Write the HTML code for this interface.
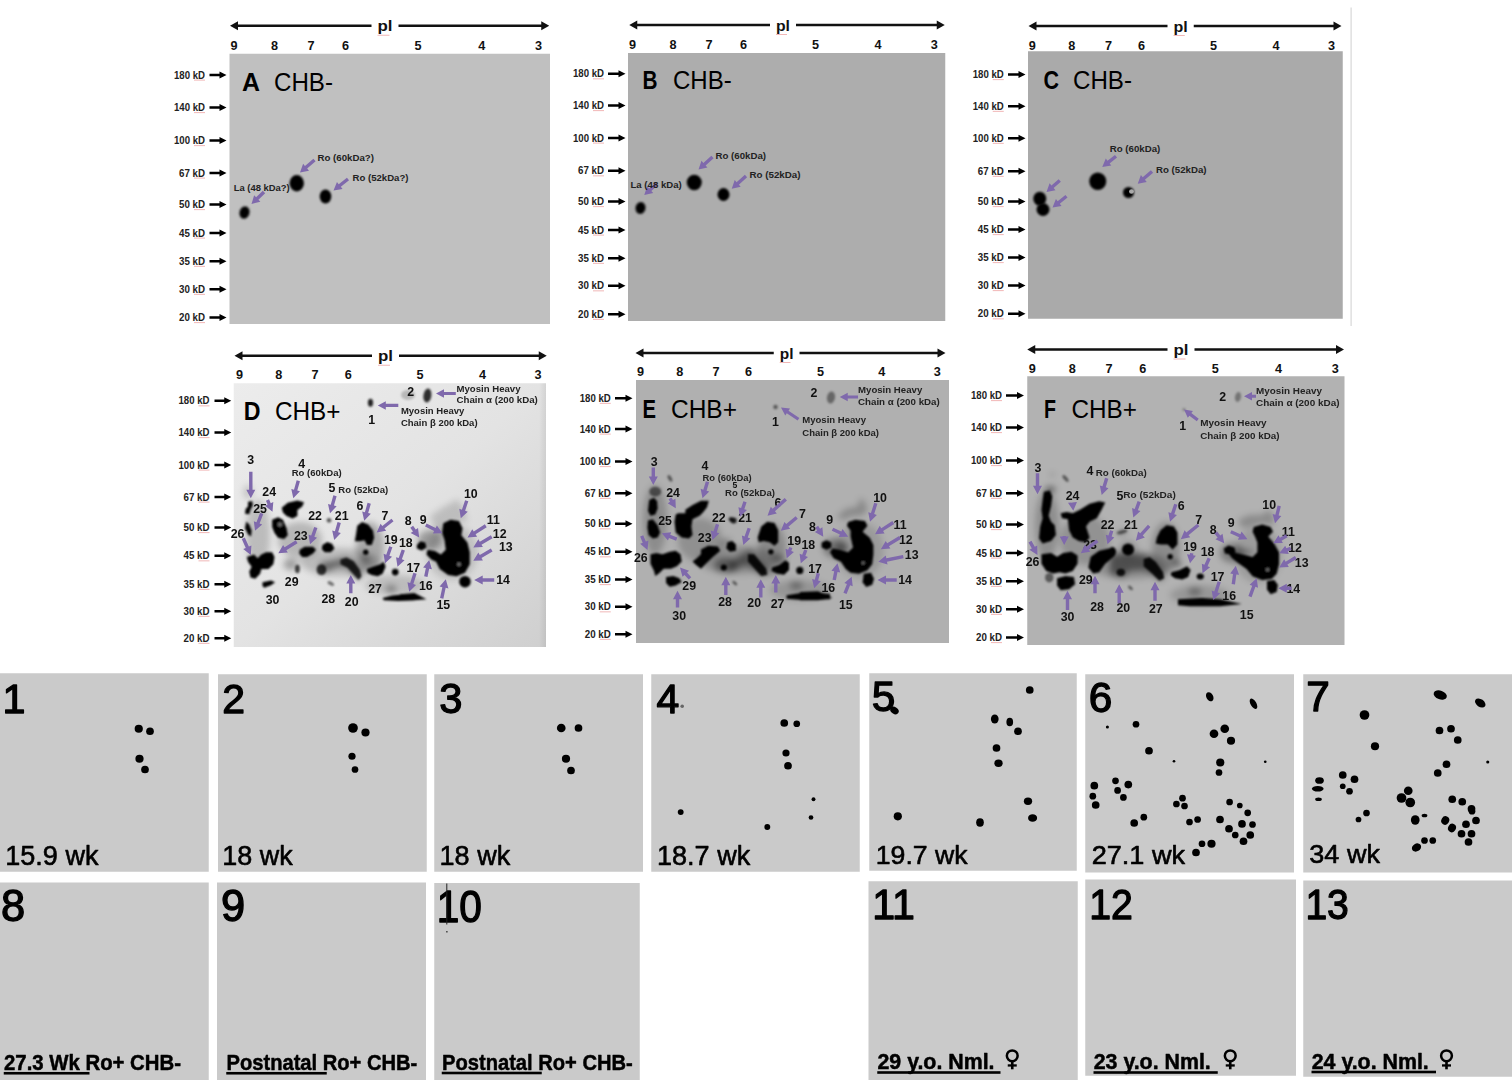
<!DOCTYPE html><html><head><meta charset="utf-8"><style>html,body{margin:0;padding:0;background:#fff;overflow:hidden}svg{display:block}</style></head><body>
<svg width="1512" height="1080" viewBox="0 0 1512 1080" font-family='"Liberation Sans", sans-serif'>
<defs><filter id="b1" x="-50%" y="-50%" width="200%" height="200%"><feGaussianBlur stdDeviation="0.8"/></filter><filter id="b2" x="-20%" y="-20%" width="140%" height="140%"><feGaussianBlur stdDeviation="1.2"/></filter><linearGradient id="gD" x1="0" y1="0" x2="1" y2="1"><stop offset="0" stop-color="#ececec"/><stop offset="0.5" stop-color="#e3e3e3"/><stop offset="1" stop-color="#cfcfcf"/></linearGradient><linearGradient id="gDr" x1="0" y1="0" x2="1" y2="0"><stop offset="0" stop-color="#000" stop-opacity="0"/><stop offset="1" stop-color="#000" stop-opacity="0.07"/></linearGradient><filter id="b3" x="-50%" y="-50%" width="200%" height="200%"><feGaussianBlur stdDeviation="3"/></filter></defs>
<rect width="1512" height="1080" fill="#fff"/>
<rect x="229.5" y="53.75" width="320.5" height="270.25" fill="#c0c0c0"/>
<polygon points="371.50,24.55 238.00,24.55 238.00,21.25 230.00,25.75 238.00,30.25 238.00,26.95 371.50,26.95" fill="#111"/>
<polygon points="398.50,26.95 541.25,26.95 541.25,30.25 549.25,25.75 541.25,21.25 541.25,24.55 398.50,24.55" fill="#111"/>
<text x="377.50" y="31.25" font-size="15.11" font-weight="bold" fill="#111" text-anchor="start" textLength="15.00" lengthAdjust="spacingAndGlyphs">pl</text>
<rect x="377.50" y="34.75" width="12.00" height="1" fill="#e06060" opacity="0.45"/>
<text x="234.00" y="50.15" font-size="12.66" font-weight="bold" fill="#111" text-anchor="middle">9</text>
<text x="274.50" y="50.15" font-size="12.66" font-weight="bold" fill="#111" text-anchor="middle">8</text>
<text x="311.00" y="50.15" font-size="12.66" font-weight="bold" fill="#111" text-anchor="middle">7</text>
<text x="345.50" y="50.15" font-size="12.66" font-weight="bold" fill="#111" text-anchor="middle">6</text>
<text x="418.00" y="50.15" font-size="12.66" font-weight="bold" fill="#111" text-anchor="middle">5</text>
<text x="481.75" y="50.15" font-size="12.66" font-weight="bold" fill="#111" text-anchor="middle">4</text>
<text x="538.50" y="50.15" font-size="12.66" font-weight="bold" fill="#111" text-anchor="middle">3</text>
<text x="174.00" y="78.60" font-size="10.36" font-weight="bold" fill="#222" text-anchor="start" textLength="31.00" lengthAdjust="spacingAndGlyphs">180 kD</text>
<rect x="194.00" y="79.60" width="11" height="1" fill="#e06060" opacity="0.45"/>
<polygon points="209.50,76.20 219.50,76.20 219.50,78.50 226.50,75.00 219.50,71.50 219.50,73.80 209.50,73.80" fill="#000"/>
<text x="174.00" y="111.10" font-size="10.36" font-weight="bold" fill="#222" text-anchor="start" textLength="31.00" lengthAdjust="spacingAndGlyphs">140 kD</text>
<rect x="194.00" y="112.10" width="11" height="1" fill="#e06060" opacity="0.45"/>
<polygon points="209.50,108.70 219.50,108.70 219.50,111.00 226.50,107.50 219.50,104.00 219.50,106.30 209.50,106.30" fill="#000"/>
<text x="174.00" y="144.10" font-size="10.36" font-weight="bold" fill="#222" text-anchor="start" textLength="31.00" lengthAdjust="spacingAndGlyphs">100 kD</text>
<rect x="194.00" y="145.10" width="11" height="1" fill="#e06060" opacity="0.45"/>
<polygon points="209.50,141.70 219.50,141.70 219.50,144.00 226.50,140.50 219.50,137.00 219.50,139.30 209.50,139.30" fill="#000"/>
<text x="179.00" y="176.60" font-size="10.36" font-weight="bold" fill="#222" text-anchor="start" textLength="26.00" lengthAdjust="spacingAndGlyphs">67 kD</text>
<rect x="194.00" y="177.60" width="11" height="1" fill="#e06060" opacity="0.45"/>
<polygon points="209.50,174.20 219.50,174.20 219.50,176.50 226.50,173.00 219.50,169.50 219.50,171.80 209.50,171.80" fill="#000"/>
<text x="179.00" y="208.10" font-size="10.36" font-weight="bold" fill="#222" text-anchor="start" textLength="26.00" lengthAdjust="spacingAndGlyphs">50 kD</text>
<rect x="194.00" y="209.10" width="11" height="1" fill="#e06060" opacity="0.45"/>
<polygon points="209.50,205.70 219.50,205.70 219.50,208.00 226.50,204.50 219.50,201.00 219.50,203.30 209.50,203.30" fill="#000"/>
<text x="179.00" y="236.60" font-size="10.36" font-weight="bold" fill="#222" text-anchor="start" textLength="26.00" lengthAdjust="spacingAndGlyphs">45 kD</text>
<rect x="194.00" y="237.60" width="11" height="1" fill="#e06060" opacity="0.45"/>
<polygon points="209.50,234.20 219.50,234.20 219.50,236.50 226.50,233.00 219.50,229.50 219.50,231.80 209.50,231.80" fill="#000"/>
<text x="179.00" y="264.85" font-size="10.36" font-weight="bold" fill="#222" text-anchor="start" textLength="26.00" lengthAdjust="spacingAndGlyphs">35 kD</text>
<rect x="194.00" y="265.85" width="11" height="1" fill="#e06060" opacity="0.45"/>
<polygon points="209.50,262.45 219.50,262.45 219.50,264.75 226.50,261.25 219.50,257.75 219.50,260.05 209.50,260.05" fill="#000"/>
<text x="179.00" y="292.85" font-size="10.36" font-weight="bold" fill="#222" text-anchor="start" textLength="26.00" lengthAdjust="spacingAndGlyphs">30 kD</text>
<rect x="194.00" y="293.85" width="11" height="1" fill="#e06060" opacity="0.45"/>
<polygon points="209.50,290.45 219.50,290.45 219.50,292.75 226.50,289.25 219.50,285.75 219.50,288.05 209.50,288.05" fill="#000"/>
<text x="179.00" y="321.10" font-size="10.36" font-weight="bold" fill="#222" text-anchor="start" textLength="26.00" lengthAdjust="spacingAndGlyphs">20 kD</text>
<rect x="194.00" y="322.10" width="11" height="1" fill="#e06060" opacity="0.45"/>
<polygon points="209.50,318.70 219.50,318.70 219.50,321.00 226.50,317.50 219.50,314.00 219.50,316.30 209.50,316.30" fill="#000"/>
<text x="242.00" y="90.50" font-size="25.90" font-weight="bold" fill="#000" text-anchor="start" textLength="18.00" lengthAdjust="spacingAndGlyphs">A</text>
<text x="274.00" y="90.50" font-size="25.90" fill="#000" text-anchor="start" textLength="59.00" lengthAdjust="spacingAndGlyphs">CHB-</text>
<rect x="628" y="53" width="317.25" height="268" fill="#adadad"/>
<polygon points="770.00,23.80 637.25,23.80 637.25,20.50 629.25,25.00 637.25,29.50 637.25,26.20 770.00,26.20" fill="#111"/>
<polygon points="796.00,26.20 936.75,26.20 936.75,29.50 944.75,25.00 936.75,20.50 936.75,23.80 796.00,23.80" fill="#111"/>
<text x="776.00" y="30.50" font-size="15.11" font-weight="bold" fill="#111" text-anchor="start" textLength="14.00" lengthAdjust="spacingAndGlyphs">pl</text>
<rect x="776.00" y="34.00" width="11.00" height="1" fill="#e06060" opacity="0.45"/>
<text x="632.50" y="49.40" font-size="12.66" font-weight="bold" fill="#111" text-anchor="middle">9</text>
<text x="673.00" y="49.40" font-size="12.66" font-weight="bold" fill="#111" text-anchor="middle">8</text>
<text x="709.00" y="49.40" font-size="12.66" font-weight="bold" fill="#111" text-anchor="middle">7</text>
<text x="743.50" y="49.40" font-size="12.66" font-weight="bold" fill="#111" text-anchor="middle">6</text>
<text x="815.50" y="49.40" font-size="12.66" font-weight="bold" fill="#111" text-anchor="middle">5</text>
<text x="878.00" y="49.40" font-size="12.66" font-weight="bold" fill="#111" text-anchor="middle">4</text>
<text x="934.25" y="49.40" font-size="12.66" font-weight="bold" fill="#111" text-anchor="middle">3</text>
<text x="573.00" y="77.35" font-size="10.36" font-weight="bold" fill="#222" text-anchor="start" textLength="31.00" lengthAdjust="spacingAndGlyphs">180 kD</text>
<rect x="593.00" y="78.35" width="11" height="1" fill="#e06060" opacity="0.45"/>
<polygon points="608.00,74.95 618.50,74.95 618.50,77.25 625.50,73.75 618.50,70.25 618.50,72.55 608.00,72.55" fill="#000"/>
<text x="573.00" y="109.10" font-size="10.36" font-weight="bold" fill="#222" text-anchor="start" textLength="31.00" lengthAdjust="spacingAndGlyphs">140 kD</text>
<rect x="593.00" y="110.10" width="11" height="1" fill="#e06060" opacity="0.45"/>
<polygon points="608.00,106.70 618.50,106.70 618.50,109.00 625.50,105.50 618.50,102.00 618.50,104.30 608.00,104.30" fill="#000"/>
<text x="573.00" y="141.60" font-size="10.36" font-weight="bold" fill="#222" text-anchor="start" textLength="31.00" lengthAdjust="spacingAndGlyphs">100 kD</text>
<rect x="593.00" y="142.60" width="11" height="1" fill="#e06060" opacity="0.45"/>
<polygon points="608.00,139.20 618.50,139.20 618.50,141.50 625.50,138.00 618.50,134.50 618.50,136.80 608.00,136.80" fill="#000"/>
<text x="578.00" y="174.35" font-size="10.36" font-weight="bold" fill="#222" text-anchor="start" textLength="26.00" lengthAdjust="spacingAndGlyphs">67 kD</text>
<rect x="593.00" y="175.35" width="11" height="1" fill="#e06060" opacity="0.45"/>
<polygon points="608.00,171.95 618.50,171.95 618.50,174.25 625.50,170.75 618.50,167.25 618.50,169.55 608.00,169.55" fill="#000"/>
<text x="578.00" y="205.10" font-size="10.36" font-weight="bold" fill="#222" text-anchor="start" textLength="26.00" lengthAdjust="spacingAndGlyphs">50 kD</text>
<rect x="593.00" y="206.10" width="11" height="1" fill="#e06060" opacity="0.45"/>
<polygon points="608.00,202.70 618.50,202.70 618.50,205.00 625.50,201.50 618.50,198.00 618.50,200.30 608.00,200.30" fill="#000"/>
<text x="578.00" y="233.60" font-size="10.36" font-weight="bold" fill="#222" text-anchor="start" textLength="26.00" lengthAdjust="spacingAndGlyphs">45 kD</text>
<rect x="593.00" y="234.60" width="11" height="1" fill="#e06060" opacity="0.45"/>
<polygon points="608.00,231.20 618.50,231.20 618.50,233.50 625.50,230.00 618.50,226.50 618.50,228.80 608.00,228.80" fill="#000"/>
<text x="578.00" y="261.85" font-size="10.36" font-weight="bold" fill="#222" text-anchor="start" textLength="26.00" lengthAdjust="spacingAndGlyphs">35 kD</text>
<rect x="593.00" y="262.85" width="11" height="1" fill="#e06060" opacity="0.45"/>
<polygon points="608.00,259.45 618.50,259.45 618.50,261.75 625.50,258.25 618.50,254.75 618.50,257.05 608.00,257.05" fill="#000"/>
<text x="578.00" y="289.35" font-size="10.36" font-weight="bold" fill="#222" text-anchor="start" textLength="26.00" lengthAdjust="spacingAndGlyphs">30 kD</text>
<rect x="593.00" y="290.35" width="11" height="1" fill="#e06060" opacity="0.45"/>
<polygon points="608.00,286.95 618.50,286.95 618.50,289.25 625.50,285.75 618.50,282.25 618.50,284.55 608.00,284.55" fill="#000"/>
<text x="578.00" y="317.85" font-size="10.36" font-weight="bold" fill="#222" text-anchor="start" textLength="26.00" lengthAdjust="spacingAndGlyphs">20 kD</text>
<rect x="593.00" y="318.85" width="11" height="1" fill="#e06060" opacity="0.45"/>
<polygon points="608.00,315.45 618.50,315.45 618.50,317.75 625.50,314.25 618.50,310.75 618.50,313.05 608.00,313.05" fill="#000"/>
<text x="642.50" y="89.00" font-size="25.90" font-weight="bold" fill="#000" text-anchor="start" textLength="15.00" lengthAdjust="spacingAndGlyphs">B</text>
<text x="673.00" y="89.00" font-size="25.90" fill="#000" text-anchor="start" textLength="58.75" lengthAdjust="spacingAndGlyphs">CHB-</text>
<rect x="1028" y="51.25" width="314.75" height="267.5" fill="#aaaaaa"/>
<polygon points="1167.50,24.80 1036.50,24.80 1036.50,21.50 1028.50,26.00 1036.50,30.50 1036.50,27.20 1167.50,27.20" fill="#111"/>
<polygon points="1193.75,27.20 1333.50,27.20 1333.50,30.50 1341.50,26.00 1333.50,21.50 1333.50,24.80 1193.75,24.80" fill="#111"/>
<text x="1173.50" y="31.50" font-size="15.11" font-weight="bold" fill="#111" text-anchor="start" textLength="14.25" lengthAdjust="spacingAndGlyphs">pl</text>
<rect x="1173.50" y="35.00" width="11.25" height="1" fill="#e06060" opacity="0.45"/>
<text x="1032.25" y="50.40" font-size="12.66" font-weight="bold" fill="#111" text-anchor="middle">9</text>
<text x="1071.75" y="50.40" font-size="12.66" font-weight="bold" fill="#111" text-anchor="middle">8</text>
<text x="1108.50" y="50.40" font-size="12.66" font-weight="bold" fill="#111" text-anchor="middle">7</text>
<text x="1141.50" y="50.40" font-size="12.66" font-weight="bold" fill="#111" text-anchor="middle">6</text>
<text x="1213.50" y="50.40" font-size="12.66" font-weight="bold" fill="#111" text-anchor="middle">5</text>
<text x="1276.00" y="50.40" font-size="12.66" font-weight="bold" fill="#111" text-anchor="middle">4</text>
<text x="1331.50" y="50.40" font-size="12.66" font-weight="bold" fill="#111" text-anchor="middle">3</text>
<text x="972.75" y="78.10" font-size="10.36" font-weight="bold" fill="#222" text-anchor="start" textLength="31.00" lengthAdjust="spacingAndGlyphs">180 kD</text>
<rect x="992.75" y="79.10" width="11" height="1" fill="#e06060" opacity="0.45"/>
<polygon points="1008.00,75.70 1018.50,75.70 1018.50,78.00 1025.50,74.50 1018.50,71.00 1018.50,73.30 1008.00,73.30" fill="#000"/>
<text x="972.75" y="109.85" font-size="10.36" font-weight="bold" fill="#222" text-anchor="start" textLength="31.00" lengthAdjust="spacingAndGlyphs">140 kD</text>
<rect x="992.75" y="110.85" width="11" height="1" fill="#e06060" opacity="0.45"/>
<polygon points="1008.00,107.45 1018.50,107.45 1018.50,109.75 1025.50,106.25 1018.50,102.75 1018.50,105.05 1008.00,105.05" fill="#000"/>
<text x="972.75" y="141.85" font-size="10.36" font-weight="bold" fill="#222" text-anchor="start" textLength="31.00" lengthAdjust="spacingAndGlyphs">100 kD</text>
<rect x="992.75" y="142.85" width="11" height="1" fill="#e06060" opacity="0.45"/>
<polygon points="1008.00,139.45 1018.50,139.45 1018.50,141.75 1025.50,138.25 1018.50,134.75 1018.50,137.05 1008.00,137.05" fill="#000"/>
<text x="977.75" y="174.85" font-size="10.36" font-weight="bold" fill="#222" text-anchor="start" textLength="26.00" lengthAdjust="spacingAndGlyphs">67 kD</text>
<rect x="992.75" y="175.85" width="11" height="1" fill="#e06060" opacity="0.45"/>
<polygon points="1008.00,172.45 1018.50,172.45 1018.50,174.75 1025.50,171.25 1018.50,167.75 1018.50,170.05 1008.00,170.05" fill="#000"/>
<text x="977.75" y="205.10" font-size="10.36" font-weight="bold" fill="#222" text-anchor="start" textLength="26.00" lengthAdjust="spacingAndGlyphs">50 kD</text>
<rect x="992.75" y="206.10" width="11" height="1" fill="#e06060" opacity="0.45"/>
<polygon points="1008.00,202.70 1018.50,202.70 1018.50,205.00 1025.50,201.50 1018.50,198.00 1018.50,200.30 1008.00,200.30" fill="#000"/>
<text x="977.75" y="233.10" font-size="10.36" font-weight="bold" fill="#222" text-anchor="start" textLength="26.00" lengthAdjust="spacingAndGlyphs">45 kD</text>
<rect x="992.75" y="234.10" width="11" height="1" fill="#e06060" opacity="0.45"/>
<polygon points="1008.00,230.70 1018.50,230.70 1018.50,233.00 1025.50,229.50 1018.50,226.00 1018.50,228.30 1008.00,228.30" fill="#000"/>
<text x="977.75" y="261.10" font-size="10.36" font-weight="bold" fill="#222" text-anchor="start" textLength="26.00" lengthAdjust="spacingAndGlyphs">35 kD</text>
<rect x="992.75" y="262.10" width="11" height="1" fill="#e06060" opacity="0.45"/>
<polygon points="1008.00,258.70 1018.50,258.70 1018.50,261.00 1025.50,257.50 1018.50,254.00 1018.50,256.30 1008.00,256.30" fill="#000"/>
<text x="977.75" y="289.10" font-size="10.36" font-weight="bold" fill="#222" text-anchor="start" textLength="26.00" lengthAdjust="spacingAndGlyphs">30 kD</text>
<rect x="992.75" y="290.10" width="11" height="1" fill="#e06060" opacity="0.45"/>
<polygon points="1008.00,286.70 1018.50,286.70 1018.50,289.00 1025.50,285.50 1018.50,282.00 1018.50,284.30 1008.00,284.30" fill="#000"/>
<text x="977.75" y="317.35" font-size="10.36" font-weight="bold" fill="#222" text-anchor="start" textLength="26.00" lengthAdjust="spacingAndGlyphs">20 kD</text>
<rect x="992.75" y="318.35" width="11" height="1" fill="#e06060" opacity="0.45"/>
<polygon points="1008.00,314.95 1018.50,314.95 1018.50,317.25 1025.50,313.75 1018.50,310.25 1018.50,312.55 1008.00,312.55" fill="#000"/>
<text x="1043.50" y="89.00" font-size="25.90" font-weight="bold" fill="#000" text-anchor="start" textLength="15.50" lengthAdjust="spacingAndGlyphs">C</text>
<text x="1073.00" y="89.00" font-size="25.90" fill="#000" text-anchor="start" textLength="59.00" lengthAdjust="spacingAndGlyphs">CHB-</text>
<rect x="233.75" y="383.25" width="312.25" height="263.75" fill="url(#gD)"/>
<rect x="539" y="383.25" width="7" height="263.75" fill="url(#gDr)"/>
<polygon points="372.00,354.55 242.50,354.55 242.50,351.25 234.50,355.75 242.50,360.25 242.50,356.95 372.00,356.95" fill="#111"/>
<polygon points="399.00,356.95 538.75,356.95 538.75,360.25 546.75,355.75 538.75,351.25 538.75,354.55 399.00,354.55" fill="#111"/>
<text x="378.00" y="361.25" font-size="15.11" font-weight="bold" fill="#111" text-anchor="start" textLength="15.00" lengthAdjust="spacingAndGlyphs">pl</text>
<rect x="378.00" y="364.75" width="12.00" height="1" fill="#e06060" opacity="0.45"/>
<text x="239.50" y="378.90" font-size="12.66" font-weight="bold" fill="#111" text-anchor="middle">9</text>
<text x="278.75" y="378.90" font-size="12.66" font-weight="bold" fill="#111" text-anchor="middle">8</text>
<text x="315.00" y="378.90" font-size="12.66" font-weight="bold" fill="#111" text-anchor="middle">7</text>
<text x="348.25" y="378.90" font-size="12.66" font-weight="bold" fill="#111" text-anchor="middle">6</text>
<text x="420.00" y="378.90" font-size="12.66" font-weight="bold" fill="#111" text-anchor="middle">5</text>
<text x="482.50" y="378.90" font-size="12.66" font-weight="bold" fill="#111" text-anchor="middle">4</text>
<text x="538.00" y="378.90" font-size="12.66" font-weight="bold" fill="#111" text-anchor="middle">3</text>
<text x="178.50" y="404.35" font-size="10.36" font-weight="bold" fill="#222" text-anchor="start" textLength="31.00" lengthAdjust="spacingAndGlyphs">180 kD</text>
<rect x="198.50" y="405.35" width="11" height="1" fill="#e06060" opacity="0.45"/>
<polygon points="214.50,401.95 224.25,401.95 224.25,404.25 231.25,400.75 224.25,397.25 224.25,399.55 214.50,399.55" fill="#000"/>
<text x="178.50" y="436.10" font-size="10.36" font-weight="bold" fill="#222" text-anchor="start" textLength="31.00" lengthAdjust="spacingAndGlyphs">140 kD</text>
<rect x="198.50" y="437.10" width="11" height="1" fill="#e06060" opacity="0.45"/>
<polygon points="214.50,433.70 224.25,433.70 224.25,436.00 231.25,432.50 224.25,429.00 224.25,431.30 214.50,431.30" fill="#000"/>
<text x="178.50" y="468.60" font-size="10.36" font-weight="bold" fill="#222" text-anchor="start" textLength="31.00" lengthAdjust="spacingAndGlyphs">100 kD</text>
<rect x="198.50" y="469.60" width="11" height="1" fill="#e06060" opacity="0.45"/>
<polygon points="214.50,466.20 224.25,466.20 224.25,468.50 231.25,465.00 224.25,461.50 224.25,463.80 214.50,463.80" fill="#000"/>
<text x="183.50" y="500.60" font-size="10.36" font-weight="bold" fill="#222" text-anchor="start" textLength="26.00" lengthAdjust="spacingAndGlyphs">67 kD</text>
<rect x="198.50" y="501.60" width="11" height="1" fill="#e06060" opacity="0.45"/>
<polygon points="214.50,498.20 224.25,498.20 224.25,500.50 231.25,497.00 224.25,493.50 224.25,495.80 214.50,495.80" fill="#000"/>
<text x="183.50" y="531.10" font-size="10.36" font-weight="bold" fill="#222" text-anchor="start" textLength="26.00" lengthAdjust="spacingAndGlyphs">50 kD</text>
<rect x="198.50" y="532.10" width="11" height="1" fill="#e06060" opacity="0.45"/>
<polygon points="214.50,528.70 224.25,528.70 224.25,531.00 231.25,527.50 224.25,524.00 224.25,526.30 214.50,526.30" fill="#000"/>
<text x="183.50" y="559.35" font-size="10.36" font-weight="bold" fill="#222" text-anchor="start" textLength="26.00" lengthAdjust="spacingAndGlyphs">45 kD</text>
<rect x="198.50" y="560.35" width="11" height="1" fill="#e06060" opacity="0.45"/>
<polygon points="214.50,556.95 224.25,556.95 224.25,559.25 231.25,555.75 224.25,552.25 224.25,554.55 214.50,554.55" fill="#000"/>
<text x="183.50" y="587.85" font-size="10.36" font-weight="bold" fill="#222" text-anchor="start" textLength="26.00" lengthAdjust="spacingAndGlyphs">35 kD</text>
<rect x="198.50" y="588.85" width="11" height="1" fill="#e06060" opacity="0.45"/>
<polygon points="214.50,585.45 224.25,585.45 224.25,587.75 231.25,584.25 224.25,580.75 224.25,583.05 214.50,583.05" fill="#000"/>
<text x="183.50" y="614.85" font-size="10.36" font-weight="bold" fill="#222" text-anchor="start" textLength="26.00" lengthAdjust="spacingAndGlyphs">30 kD</text>
<rect x="198.50" y="615.85" width="11" height="1" fill="#e06060" opacity="0.45"/>
<polygon points="214.50,612.45 224.25,612.45 224.25,614.75 231.25,611.25 224.25,607.75 224.25,610.05 214.50,610.05" fill="#000"/>
<text x="183.50" y="641.85" font-size="10.36" font-weight="bold" fill="#222" text-anchor="start" textLength="26.00" lengthAdjust="spacingAndGlyphs">20 kD</text>
<rect x="198.50" y="642.85" width="11" height="1" fill="#e06060" opacity="0.45"/>
<polygon points="214.50,639.45 224.25,639.45 224.25,641.75 231.25,638.25 224.25,634.75 224.25,637.05 214.50,637.05" fill="#000"/>
<text x="243.75" y="419.50" font-size="26.26" font-weight="bold" fill="#000" text-anchor="start" textLength="16.75" lengthAdjust="spacingAndGlyphs">D</text>
<text x="275.00" y="419.50" font-size="26.26" fill="#000" text-anchor="start" textLength="65.50" lengthAdjust="spacingAndGlyphs">CHB+</text>
<rect x="636" y="380" width="313" height="263" fill="#b0b0b0"/>
<polygon points="773.75,351.80 643.50,351.80 643.50,348.50 635.50,353.00 643.50,357.50 643.50,354.20 773.75,354.20" fill="#111"/>
<polygon points="799.50,354.20 937.50,354.20 937.50,357.50 945.50,353.00 937.50,348.50 937.50,351.80 799.50,351.80" fill="#111"/>
<text x="779.75" y="358.50" font-size="15.11" font-weight="bold" fill="#111" text-anchor="start" textLength="13.75" lengthAdjust="spacingAndGlyphs">pl</text>
<rect x="779.75" y="362.00" width="10.75" height="1" fill="#e06060" opacity="0.45"/>
<text x="640.50" y="376.15" font-size="12.66" font-weight="bold" fill="#111" text-anchor="middle">9</text>
<text x="679.75" y="376.15" font-size="12.66" font-weight="bold" fill="#111" text-anchor="middle">8</text>
<text x="716.00" y="376.15" font-size="12.66" font-weight="bold" fill="#111" text-anchor="middle">7</text>
<text x="748.50" y="376.15" font-size="12.66" font-weight="bold" fill="#111" text-anchor="middle">6</text>
<text x="820.50" y="376.15" font-size="12.66" font-weight="bold" fill="#111" text-anchor="middle">5</text>
<text x="881.75" y="376.15" font-size="12.66" font-weight="bold" fill="#111" text-anchor="middle">4</text>
<text x="937.25" y="376.15" font-size="12.66" font-weight="bold" fill="#111" text-anchor="middle">3</text>
<text x="579.75" y="401.85" font-size="10.36" font-weight="bold" fill="#222" text-anchor="start" textLength="31.00" lengthAdjust="spacingAndGlyphs">180 kD</text>
<rect x="599.75" y="402.85" width="11" height="1" fill="#e06060" opacity="0.45"/>
<polygon points="615.00,399.45 625.50,399.45 625.50,401.75 632.50,398.25 625.50,394.75 625.50,397.05 615.00,397.05" fill="#000"/>
<text x="579.75" y="432.60" font-size="10.36" font-weight="bold" fill="#222" text-anchor="start" textLength="31.00" lengthAdjust="spacingAndGlyphs">140 kD</text>
<rect x="599.75" y="433.60" width="11" height="1" fill="#e06060" opacity="0.45"/>
<polygon points="615.00,430.20 625.50,430.20 625.50,432.50 632.50,429.00 625.50,425.50 625.50,427.80 615.00,427.80" fill="#000"/>
<text x="579.75" y="465.10" font-size="10.36" font-weight="bold" fill="#222" text-anchor="start" textLength="31.00" lengthAdjust="spacingAndGlyphs">100 kD</text>
<rect x="599.75" y="466.10" width="11" height="1" fill="#e06060" opacity="0.45"/>
<polygon points="615.00,462.70 625.50,462.70 625.50,465.00 632.50,461.50 625.50,458.00 625.50,460.30 615.00,460.30" fill="#000"/>
<text x="584.75" y="496.85" font-size="10.36" font-weight="bold" fill="#222" text-anchor="start" textLength="26.00" lengthAdjust="spacingAndGlyphs">67 kD</text>
<rect x="599.75" y="497.85" width="11" height="1" fill="#e06060" opacity="0.45"/>
<polygon points="615.00,494.45 625.50,494.45 625.50,496.75 632.50,493.25 625.50,489.75 625.50,492.05 615.00,492.05" fill="#000"/>
<text x="584.75" y="527.35" font-size="10.36" font-weight="bold" fill="#222" text-anchor="start" textLength="26.00" lengthAdjust="spacingAndGlyphs">50 kD</text>
<rect x="599.75" y="528.35" width="11" height="1" fill="#e06060" opacity="0.45"/>
<polygon points="615.00,524.95 625.50,524.95 625.50,527.25 632.50,523.75 625.50,520.25 625.50,522.55 615.00,522.55" fill="#000"/>
<text x="584.75" y="555.35" font-size="10.36" font-weight="bold" fill="#222" text-anchor="start" textLength="26.00" lengthAdjust="spacingAndGlyphs">45 kD</text>
<rect x="599.75" y="556.35" width="11" height="1" fill="#e06060" opacity="0.45"/>
<polygon points="615.00,552.95 625.50,552.95 625.50,555.25 632.50,551.75 625.50,548.25 625.50,550.55 615.00,550.55" fill="#000"/>
<text x="584.75" y="583.10" font-size="10.36" font-weight="bold" fill="#222" text-anchor="start" textLength="26.00" lengthAdjust="spacingAndGlyphs">35 kD</text>
<rect x="599.75" y="584.10" width="11" height="1" fill="#e06060" opacity="0.45"/>
<polygon points="615.00,580.70 625.50,580.70 625.50,583.00 632.50,579.50 625.50,576.00 625.50,578.30 615.00,578.30" fill="#000"/>
<text x="584.75" y="610.35" font-size="10.36" font-weight="bold" fill="#222" text-anchor="start" textLength="26.00" lengthAdjust="spacingAndGlyphs">30 kD</text>
<rect x="599.75" y="611.35" width="11" height="1" fill="#e06060" opacity="0.45"/>
<polygon points="615.00,607.95 625.50,607.95 625.50,610.25 632.50,606.75 625.50,603.25 625.50,605.55 615.00,605.55" fill="#000"/>
<text x="584.75" y="637.85" font-size="10.36" font-weight="bold" fill="#222" text-anchor="start" textLength="26.00" lengthAdjust="spacingAndGlyphs">20 kD</text>
<rect x="599.75" y="638.85" width="11" height="1" fill="#e06060" opacity="0.45"/>
<polygon points="615.00,635.45 625.50,635.45 625.50,637.75 632.50,634.25 625.50,630.75 625.50,633.05 615.00,633.05" fill="#000"/>
<text x="642.50" y="418.00" font-size="25.18" font-weight="bold" fill="#000" text-anchor="start" textLength="13.50" lengthAdjust="spacingAndGlyphs">E</text>
<text x="671.00" y="418.00" font-size="25.18" fill="#000" text-anchor="start" textLength="66.00" lengthAdjust="spacingAndGlyphs">CHB+</text>
<rect x="1027.25" y="376.25" width="317.25" height="268.75" fill="#b2b2b2"/>
<polygon points="1167.50,348.30 1035.25,348.30 1035.25,345.00 1027.25,349.50 1035.25,354.00 1035.25,350.70 1167.50,350.70" fill="#111"/>
<polygon points="1194.50,350.70 1336.00,350.70 1336.00,354.00 1344.00,349.50 1336.00,345.00 1336.00,348.30 1194.50,348.30" fill="#111"/>
<text x="1173.50" y="355.00" font-size="15.11" font-weight="bold" fill="#111" text-anchor="start" textLength="15.00" lengthAdjust="spacingAndGlyphs">pl</text>
<rect x="1173.50" y="358.50" width="12.00" height="1" fill="#e06060" opacity="0.45"/>
<text x="1032.25" y="373.15" font-size="12.66" font-weight="bold" fill="#111" text-anchor="middle">9</text>
<text x="1072.25" y="373.15" font-size="12.66" font-weight="bold" fill="#111" text-anchor="middle">8</text>
<text x="1109.00" y="373.15" font-size="12.66" font-weight="bold" fill="#111" text-anchor="middle">7</text>
<text x="1142.75" y="373.15" font-size="12.66" font-weight="bold" fill="#111" text-anchor="middle">6</text>
<text x="1215.25" y="373.15" font-size="12.66" font-weight="bold" fill="#111" text-anchor="middle">5</text>
<text x="1278.50" y="373.15" font-size="12.66" font-weight="bold" fill="#111" text-anchor="middle">4</text>
<text x="1335.25" y="373.15" font-size="12.66" font-weight="bold" fill="#111" text-anchor="middle">3</text>
<text x="971.00" y="399.10" font-size="10.36" font-weight="bold" fill="#222" text-anchor="start" textLength="31.00" lengthAdjust="spacingAndGlyphs">180 kD</text>
<rect x="991.00" y="400.10" width="11" height="1" fill="#e06060" opacity="0.45"/>
<polygon points="1006.00,396.70 1017.00,396.70 1017.00,399.00 1024.00,395.50 1017.00,392.00 1017.00,394.30 1006.00,394.30" fill="#000"/>
<text x="971.00" y="431.10" font-size="10.36" font-weight="bold" fill="#222" text-anchor="start" textLength="31.00" lengthAdjust="spacingAndGlyphs">140 kD</text>
<rect x="991.00" y="432.10" width="11" height="1" fill="#e06060" opacity="0.45"/>
<polygon points="1006.00,428.70 1017.00,428.70 1017.00,431.00 1024.00,427.50 1017.00,424.00 1017.00,426.30 1006.00,426.30" fill="#000"/>
<text x="971.00" y="464.10" font-size="10.36" font-weight="bold" fill="#222" text-anchor="start" textLength="31.00" lengthAdjust="spacingAndGlyphs">100 kD</text>
<rect x="991.00" y="465.10" width="11" height="1" fill="#e06060" opacity="0.45"/>
<polygon points="1006.00,461.70 1017.00,461.70 1017.00,464.00 1024.00,460.50 1017.00,457.00 1017.00,459.30 1006.00,459.30" fill="#000"/>
<text x="976.00" y="496.85" font-size="10.36" font-weight="bold" fill="#222" text-anchor="start" textLength="26.00" lengthAdjust="spacingAndGlyphs">67 kD</text>
<rect x="991.00" y="497.85" width="11" height="1" fill="#e06060" opacity="0.45"/>
<polygon points="1006.00,494.45 1017.00,494.45 1017.00,496.75 1024.00,493.25 1017.00,489.75 1017.00,492.05 1006.00,492.05" fill="#000"/>
<text x="976.00" y="528.10" font-size="10.36" font-weight="bold" fill="#222" text-anchor="start" textLength="26.00" lengthAdjust="spacingAndGlyphs">50 kD</text>
<rect x="991.00" y="529.10" width="11" height="1" fill="#e06060" opacity="0.45"/>
<polygon points="1006.00,525.70 1017.00,525.70 1017.00,528.00 1024.00,524.50 1017.00,521.00 1017.00,523.30 1006.00,523.30" fill="#000"/>
<text x="976.00" y="556.60" font-size="10.36" font-weight="bold" fill="#222" text-anchor="start" textLength="26.00" lengthAdjust="spacingAndGlyphs">45 kD</text>
<rect x="991.00" y="557.60" width="11" height="1" fill="#e06060" opacity="0.45"/>
<polygon points="1006.00,554.20 1017.00,554.20 1017.00,556.50 1024.00,553.00 1017.00,549.50 1017.00,551.80 1006.00,551.80" fill="#000"/>
<text x="976.00" y="584.85" font-size="10.36" font-weight="bold" fill="#222" text-anchor="start" textLength="26.00" lengthAdjust="spacingAndGlyphs">35 kD</text>
<rect x="991.00" y="585.85" width="11" height="1" fill="#e06060" opacity="0.45"/>
<polygon points="1006.00,582.45 1017.00,582.45 1017.00,584.75 1024.00,581.25 1017.00,577.75 1017.00,580.05 1006.00,580.05" fill="#000"/>
<text x="976.00" y="612.85" font-size="10.36" font-weight="bold" fill="#222" text-anchor="start" textLength="26.00" lengthAdjust="spacingAndGlyphs">30 kD</text>
<rect x="991.00" y="613.85" width="11" height="1" fill="#e06060" opacity="0.45"/>
<polygon points="1006.00,610.45 1017.00,610.45 1017.00,612.75 1024.00,609.25 1017.00,605.75 1017.00,608.05 1006.00,608.05" fill="#000"/>
<text x="976.00" y="641.10" font-size="10.36" font-weight="bold" fill="#222" text-anchor="start" textLength="26.00" lengthAdjust="spacingAndGlyphs">20 kD</text>
<rect x="991.00" y="642.10" width="11" height="1" fill="#e06060" opacity="0.45"/>
<polygon points="1006.00,638.70 1017.00,638.70 1017.00,641.00 1024.00,637.50 1017.00,634.00 1017.00,636.30 1006.00,636.30" fill="#000"/>
<text x="1044.00" y="417.50" font-size="25.18" font-weight="bold" fill="#000" text-anchor="start" textLength="12.00" lengthAdjust="spacingAndGlyphs">F</text>
<text x="1071.50" y="417.50" font-size="25.18" fill="#000" text-anchor="start" textLength="65.50" lengthAdjust="spacingAndGlyphs">CHB+</text>
<ellipse cx="244.50" cy="212.50" rx="5.00" ry="6.30" fill="#000" transform="rotate(15 244.50 212.50)" filter="url(#b1)"/>
<ellipse cx="296.75" cy="183.25" rx="7.20" ry="8.20" fill="#000" filter="url(#b1)"/>
<ellipse cx="325.50" cy="196.50" rx="5.80" ry="7.00" fill="#000" filter="url(#b1)"/>
<polygon points="313.39,158.71 304.95,165.99 303.12,163.87 300.00,172.50 309.00,170.68 307.17,168.56 315.61,161.29" fill="#7f69ac"/>
<polygon points="262.82,190.77 256.09,197.23 254.15,195.21 251.50,204.00 260.39,201.71 258.45,199.69 265.18,193.23" fill="#7f69ac"/>
<polygon points="346.94,177.67 338.71,184.20 336.97,182.00 333.50,190.50 342.56,189.05 340.82,186.86 349.06,180.33" fill="#7f69ac"/>
<text x="317.50" y="161.00" font-size="8.63" font-weight="bold" fill="#222" text-anchor="start" textLength="56.50" lengthAdjust="spacingAndGlyphs">Ro (60kDa?)</text>
<text x="233.75" y="190.50" font-size="8.63" font-weight="bold" fill="#222" text-anchor="start" textLength="56.00" lengthAdjust="spacingAndGlyphs">La (48 kDa?)</text>
<text x="352.50" y="180.50" font-size="8.63" font-weight="bold" fill="#222" text-anchor="start" textLength="56.00" lengthAdjust="spacingAndGlyphs">Ro (52kDa?)</text>
<ellipse cx="640.50" cy="208.00" rx="5.00" ry="6.00" fill="#000" transform="rotate(10 640.50 208.00)" filter="url(#b1)"/>
<ellipse cx="694.25" cy="182.50" rx="7.50" ry="7.75" fill="#000" filter="url(#b1)"/>
<ellipse cx="723.50" cy="194.50" rx="6.00" ry="6.50" fill="#000" filter="url(#b1)"/>
<polygon points="655.61,182.49 649.06,188.38 647.19,186.30 644.25,195.00 653.21,192.99 651.33,190.91 657.89,185.01" fill="#7f69ac"/>
<polygon points="711.37,155.73 703.34,162.90 701.47,160.82 698.50,169.50 707.46,167.53 705.60,165.44 713.63,158.27" fill="#7f69ac"/>
<polygon points="744.87,174.73 736.58,182.15 734.71,180.06 731.75,188.75 740.71,186.77 738.85,184.68 747.13,177.27" fill="#7f69ac"/>
<text x="630.50" y="187.50" font-size="8.63" font-weight="bold" fill="#222" text-anchor="start" textLength="51.25" lengthAdjust="spacingAndGlyphs">La (48 kDa)</text>
<text x="715.50" y="159.00" font-size="8.63" font-weight="bold" fill="#222" text-anchor="start" textLength="50.50" lengthAdjust="spacingAndGlyphs">Ro (60kDa)</text>
<text x="749.50" y="178.00" font-size="8.63" font-weight="bold" fill="#222" text-anchor="start" textLength="51.00" lengthAdjust="spacingAndGlyphs">Ro (52kDa)</text>
<ellipse cx="1039.75" cy="198.75" rx="6.50" ry="7.00" fill="#000" filter="url(#b1)"/>
<ellipse cx="1043.00" cy="209.50" rx="6.50" ry="6.50" fill="#000" filter="url(#b1)"/>
<ellipse cx="1097.75" cy="181.25" rx="8.50" ry="8.75" fill="#000" filter="url(#b1)"/>
<ellipse cx="1128.50" cy="192.50" rx="5.50" ry="5.50" fill="#000" filter="url(#b1)"/>
<ellipse cx="1131.50" cy="191.50" rx="2.50" ry="2.20" fill="#aaaaaa"/>
<polygon points="1058.64,179.22 1051.43,185.47 1049.59,183.36 1046.50,192.00 1055.49,190.15 1053.66,188.04 1060.86,181.78" fill="#7f69ac"/>
<polygon points="1065.44,194.92 1057.67,201.16 1055.92,198.98 1052.50,207.50 1061.55,206.00 1059.80,203.81 1067.56,197.58" fill="#7f69ac"/>
<polygon points="1114.95,154.91 1107.51,160.73 1105.78,158.53 1102.25,167.00 1111.32,165.62 1109.60,163.41 1117.05,157.59" fill="#7f69ac"/>
<polygon points="1150.89,170.21 1142.71,177.25 1140.88,175.12 1137.75,183.75 1146.75,181.95 1144.92,179.82 1153.11,172.79" fill="#7f69ac"/>
<text x="1109.75" y="152.25" font-size="8.63" font-weight="bold" fill="#222" text-anchor="start" textLength="50.50" lengthAdjust="spacingAndGlyphs">Ro (60kDa)</text>
<text x="1156.00" y="173.00" font-size="8.63" font-weight="bold" fill="#222" text-anchor="start" textLength="50.50" lengthAdjust="spacingAndGlyphs">Ro (52kDa)</text>
<rect x="1350.5" y="7.5" width="1.2" height="318.5" fill="#d8d8d8"/>
<g filter="url(#b2)">
<ellipse cx="370.50" cy="402.80" rx="2.60" ry="4.00" fill="#000" opacity="0.85"/>
<ellipse cx="427.40" cy="395.50" rx="4.00" ry="7.00" fill="#000" opacity="0.8" transform="rotate(8 427.40 395.50)"/>
<ellipse cx="408.00" cy="395.00" rx="7.00" ry="5.00" fill="#000" opacity="0.2"/>
<polygon points="248.05,501.66 252.26,501.06 252.86,505.27 250.46,510.08 249.25,514.30 245.04,513.69 245.64,508.88 248.05,506.47" fill="#000"/>
<polygon points="246.25,521.52 249.25,524.52 251.66,530.54 251.06,536.56 248.05,534.15 245.04,528.13" fill="#000"/>
<polygon points="246.85,557.02 254.07,554.61 257.68,558.22 261.29,554.61 266.10,552.20 272.12,552.20 274.52,557.02 273.32,564.24 268.51,569.05 261.29,569.05 260.08,573.86 255.27,578.68 250.46,577.47 249.25,571.46 251.66,566.64 248.05,561.83" fill="#000"/>
<polygon points="262.49,582.29 270.91,580.48 275.13,582.29 270.91,585.29 264.30,587.70 262.49,585.90" fill="#000"/>
<polygon points="272.12,519.71 278.13,517.30 282.95,519.71 286.56,528.13 287.76,535.35 284.15,538.97 278.13,537.76 274.52,532.95 272.12,526.93" fill="#000"/>
<ellipse cx="279.94" cy="524.52" rx="2.17" ry="2.17" fill="#ddd" opacity="0.5"/>
<polygon points="281.74,507.68 287.76,502.86 297.39,500.46 304.01,502.26 302.20,506.47 297.39,510.08 297.39,516.10 292.58,518.51 286.56,516.10 282.95,512.49" fill="#000"/>
<polygon points="299.80,549.80 304.61,546.79 313.03,546.79 316.04,549.80 313.03,553.41 307.02,557.02 302.20,557.02 299.19,553.41" fill="#000"/>
<ellipse cx="297.39" cy="569.05" rx="2.41" ry="4.21" fill="#000" opacity="0.7"/>
<ellipse cx="321.46" cy="569.65" rx="4.81" ry="5.42" fill="#000" opacity="0.75"/>
<polygon points="322.41,544.98 327.22,541.97 332.03,543.78 334.44,548.59 330.83,552.20 324.81,552.20 321.81,549.19" fill="#000"/>
<ellipse cx="329.03" cy="520.31" rx="2.41" ry="2.41" fill="#000" opacity="0.6"/>
<polygon points="340.46,559.42 346.47,557.62 353.69,561.23 359.71,569.65 361.52,576.27 358.51,579.88 353.69,574.46 347.68,567.85 340.46,564.24" fill="#000" opacity="0.8"/>
<polygon points="357.30,525.73 362.12,522.12 368.13,524.52 372.95,530.54 374.15,537.76 371.74,544.98 366.93,544.98 364.52,540.17 359.71,541.37 354.90,541.37 356.10,534.15" fill="#000"/>
<ellipse cx="365.73" cy="552.20" rx="2.65" ry="2.65" fill="#000"/>
<polygon points="366.93,569.05 372.95,566.64 380.17,564.24 383.78,561.83 385.58,566.64 382.58,573.86 377.76,576.27 371.74,575.07 367.53,572.66" fill="#000"/>
<ellipse cx="395.21" cy="572.06" rx="3.37" ry="3.37" fill="#000"/>
<polygon points="382.58,597.93 392.20,595.52 404.24,594.32 413.86,593.72 418.68,597.33 413.86,600.34 398.22,600.94 383.78,600.34" fill="#000"/>
<ellipse cx="330.83" cy="583.49" rx="3.61" ry="1.81" fill="#000" opacity="0.5" transform="rotate(30 330.83 583.49)"/>
<polygon points="443.32,523.32 450.54,519.71 458.97,520.91 462.58,528.13 461.37,535.35 467.39,542.58 469.80,552.20 469.80,564.24 464.98,572.66 456.56,576.27 448.13,575.07 439.71,569.05 436.10,561.83 431.29,559.42 426.47,554.61 427.68,549.80 434.90,551.00 440.91,554.61 445.73,549.80 444.52,540.17 442.12,532.95" fill="#000"/>
<ellipse cx="458.97" cy="564.24" rx="1.68" ry="1.68" fill="#aaa" opacity="0.8"/>
<ellipse cx="464.98" cy="581.68" rx="5.78" ry="5.78" fill="#000"/>
<polygon points="416.85,544.98 420.46,541.37 425.27,542.58 426.47,547.39 421.66,550.40 416.85,548.59" fill="#000"/>
<polygon points="400.00,594.32 414.44,593.12 426.47,599.13 414.44,600.34 400.00,600.34" fill="#000"/>
</g>
<g filter="url(#b3)"><ellipse cx="290.77" cy="564.24" rx="7.22" ry="6.02" opacity="0.3"/><ellipse cx="248.05" cy="492.03" rx="4.81" ry="7.22" opacity="0.15"/><polygon points="320.00,563.03 336.85,559.42 346.47,557.02 353.69,560.63 359.71,569.05 361.52,576.27 358.51,581.08 353.69,575.07 347.68,567.85 338.05,566.64 327.22,571.46 320.00,572.66" fill="#000" opacity="0.45"/><ellipse cx="391.00" cy="588.90" rx="5.42" ry="3.61" opacity="0.35"/><ellipse cx="365.73" cy="559.42" rx="4.81" ry="3.01" opacity="0.4" transform="rotate(30 365.73 559.42)"/><polygon points="430.08,516.10 442.12,507.68 457.76,499.25 464.98,511.29 467.39,520.91 456.56,522.12 443.32,536.56 436.10,531.74" fill="#000" opacity="0.15"/><ellipse cx="452" cy="552" rx="26" ry="28" opacity="0.12"/><ellipse cx="340" cy="562" rx="40" ry="14" opacity="0.18"/><ellipse cx="300" cy="540" rx="22" ry="18" opacity="0.2"/><ellipse cx="258" cy="535" rx="12" ry="35" opacity="0.18"/><ellipse cx="370" cy="548" rx="14" ry="26" opacity="0.25"/><ellipse cx="395" cy="585" rx="30" ry="10" opacity="0.15"/><ellipse cx="430" cy="540" rx="12" ry="10" opacity="0.3"/></g>
<text x="410.80" y="395.80" font-size="12.37" font-weight="bold" fill="#111" text-anchor="middle">2</text>
<text x="371.80" y="423.60" font-size="12.37" font-weight="bold" fill="#111" text-anchor="middle">1</text>
<text x="456.50" y="392.30" font-size="9.50" font-weight="bold" fill="#222" text-anchor="start" textLength="64.00" lengthAdjust="spacingAndGlyphs">Myosin Heavy</text>
<text x="456.50" y="403.30" font-size="9.50" font-weight="bold" fill="#222" text-anchor="start" textLength="81.30" lengthAdjust="spacingAndGlyphs">Chain α (200 kDa)</text>
<text x="400.90" y="413.70" font-size="9.50" font-weight="bold" fill="#222" text-anchor="start" textLength="63.50" lengthAdjust="spacingAndGlyphs">Myosin Heavy</text>
<text x="400.90" y="425.60" font-size="9.50" font-weight="bold" fill="#222" text-anchor="start" textLength="76.70" lengthAdjust="spacingAndGlyphs">Chain β 200 kDa)</text>
<polygon points="455.80,391.90 444.00,391.90 444.00,389.25 436.00,393.50 444.00,397.75 444.00,395.10 455.80,395.10" fill="#7f69ac"/>
<polygon points="398.30,403.80 385.80,403.80 385.80,401.15 377.80,405.40 385.80,409.65 385.80,407.00 398.30,407.00" fill="#7f69ac"/>
<text x="250.80" y="464.30" font-size="12.37" font-weight="bold" fill="#111" text-anchor="middle">3</text>
<text x="301.70" y="467.60" font-size="12.37" font-weight="bold" fill="#111" text-anchor="middle">4</text>
<text x="269.20" y="496.00" font-size="12.37" font-weight="bold" fill="#111" text-anchor="middle">24</text>
<text x="260.00" y="512.60" font-size="12.37" font-weight="bold" fill="#111" text-anchor="middle">25</text>
<text x="332.00" y="491.80" font-size="12.37" font-weight="bold" fill="#111" text-anchor="middle">5</text>
<text x="315.00" y="520.10" font-size="12.37" font-weight="bold" fill="#111" text-anchor="middle">22</text>
<text x="341.70" y="520.10" font-size="12.37" font-weight="bold" fill="#111" text-anchor="middle">21</text>
<text x="360.00" y="510.10" font-size="12.37" font-weight="bold" fill="#111" text-anchor="middle">6</text>
<text x="385.00" y="520.10" font-size="12.37" font-weight="bold" fill="#111" text-anchor="middle">7</text>
<text x="408.30" y="525.10" font-size="12.37" font-weight="bold" fill="#111" text-anchor="middle">8</text>
<text x="423.30" y="523.50" font-size="12.37" font-weight="bold" fill="#111" text-anchor="middle">9</text>
<text x="237.50" y="537.60" font-size="12.37" font-weight="bold" fill="#111" text-anchor="middle">26</text>
<text x="300.80" y="540.10" font-size="12.37" font-weight="bold" fill="#111" text-anchor="middle">23</text>
<text x="390.80" y="544.30" font-size="12.37" font-weight="bold" fill="#111" text-anchor="middle">19</text>
<text x="405.80" y="546.80" font-size="12.37" font-weight="bold" fill="#111" text-anchor="middle">18</text>
<text x="413.30" y="571.80" font-size="12.37" font-weight="bold" fill="#111" text-anchor="middle">17</text>
<text x="291.70" y="586.00" font-size="12.37" font-weight="bold" fill="#111" text-anchor="middle">29</text>
<text x="375.00" y="592.60" font-size="12.37" font-weight="bold" fill="#111" text-anchor="middle">27</text>
<text x="272.50" y="603.50" font-size="12.37" font-weight="bold" fill="#111" text-anchor="middle">30</text>
<text x="328.30" y="602.60" font-size="12.37" font-weight="bold" fill="#111" text-anchor="middle">28</text>
<text x="351.70" y="606.00" font-size="12.37" font-weight="bold" fill="#111" text-anchor="middle">20</text>
<text x="470.80" y="497.60" font-size="12.37" font-weight="bold" fill="#111" text-anchor="middle">10</text>
<text x="493.30" y="524.30" font-size="12.37" font-weight="bold" fill="#111" text-anchor="middle">11</text>
<text x="499.70" y="537.60" font-size="12.37" font-weight="bold" fill="#111" text-anchor="middle">12</text>
<text x="505.80" y="551.00" font-size="12.37" font-weight="bold" fill="#111" text-anchor="middle">13</text>
<text x="503.00" y="583.50" font-size="12.37" font-weight="bold" fill="#111" text-anchor="middle">14</text>
<text x="425.80" y="590.10" font-size="12.37" font-weight="bold" fill="#111" text-anchor="middle">16</text>
<text x="443.30" y="608.50" font-size="12.37" font-weight="bold" fill="#111" text-anchor="middle">15</text>
<text x="291.70" y="475.50" font-size="8.63" font-weight="bold" fill="#222" text-anchor="start" textLength="50.00" lengthAdjust="spacingAndGlyphs">Ro (60kDa)</text>
<text x="338.30" y="493.00" font-size="8.63" font-weight="bold" fill="#222" text-anchor="start" textLength="50.00" lengthAdjust="spacingAndGlyphs">Ro (52kDa)</text>
<polygon points="249.10,471.70 249.10,489.80 246.30,489.80 250.80,498.30 255.30,489.80 252.50,489.80 252.50,471.70" fill="#7f69ac"/>
<polygon points="296.67,480.33 294.00,489.66 291.31,488.89 293.30,498.30 299.96,491.36 297.27,490.59 299.93,481.27" fill="#7f69ac"/>
<polygon points="265.94,500.67 267.60,504.55 265.02,505.65 272.50,511.70 273.30,502.12 270.72,503.22 269.06,499.33" fill="#7f69ac"/>
<polygon points="260.11,512.69 256.45,522.25 253.84,521.25 255.00,530.80 262.24,524.47 259.63,523.47 263.29,513.91" fill="#7f69ac"/>
<polygon points="241.75,539.00 245.77,547.94 243.21,549.09 250.80,555.00 251.42,545.40 248.87,546.55 244.85,537.60" fill="#7f69ac"/>
<polygon points="295.79,540.26 284.58,547.33 283.09,544.96 278.30,553.30 287.89,552.57 286.40,550.21 297.61,543.14" fill="#7f69ac"/>
<polygon points="314.19,526.94 311.18,535.61 308.54,534.69 310.00,544.20 317.04,537.65 314.39,536.73 317.41,528.06" fill="#7f69ac"/>
<polygon points="333.37,495.33 330.70,504.66 328.01,503.89 330.00,513.30 336.66,506.36 333.97,505.59 336.63,496.27" fill="#7f69ac"/>
<polygon points="337.57,522.03 334.90,531.36 332.21,530.59 334.20,540.00 340.86,533.06 338.17,532.29 340.83,522.97" fill="#7f69ac"/>
<polygon points="367.57,502.83 364.90,512.16 362.21,511.39 364.20,520.80 370.86,513.86 368.17,513.09 370.83,503.77" fill="#7f69ac"/>
<polygon points="391.45,518.67 382.31,525.89 380.57,523.70 376.70,532.50 386.16,530.76 384.42,528.56 393.55,521.33" fill="#7f69ac"/>
<polygon points="410.30,527.67 412.96,531.49 410.66,533.09 419.20,537.50 418.05,527.95 415.75,529.55 413.10,525.73" fill="#7f69ac"/>
<polygon points="389.20,546.14 386.20,554.71 383.56,553.79 385.00,563.30 392.05,556.76 389.41,555.84 392.40,547.26" fill="#7f69ac"/>
<polygon points="401.69,549.44 398.68,558.11 396.04,557.19 397.50,566.70 404.54,560.15 401.89,559.23 404.91,550.56" fill="#7f69ac"/>
<polygon points="413.38,572.79 410.13,583.08 407.46,582.24 409.20,591.70 416.05,584.95 413.38,584.10 416.62,573.81" fill="#7f69ac"/>
<polygon points="352.50,593.30 352.50,583.50 355.30,583.50 350.80,575.00 346.30,583.50 349.10,583.50 349.10,593.30" fill="#7f69ac"/>
<polygon points="465.09,500.26 461.90,509.70 459.25,508.81 460.80,518.30 467.78,511.68 465.13,510.79 468.31,501.34" fill="#7f69ac"/>
<polygon points="425.04,526.52 434.13,531.04 432.89,533.55 442.50,533.30 436.89,525.49 435.64,527.99 426.56,523.48" fill="#7f69ac"/>
<polygon points="484.88,524.37 473.75,531.49 472.24,529.13 467.50,537.50 477.09,536.71 475.58,534.35 486.72,527.23" fill="#7f69ac"/>
<polygon points="490.84,535.23 479.77,541.73 478.35,539.32 473.30,547.50 482.91,547.08 481.49,544.66 492.56,538.17" fill="#7f69ac"/>
<polygon points="490.84,548.53 479.77,555.03 478.35,552.62 473.30,560.80 482.91,560.38 481.49,557.96 492.56,551.47" fill="#7f69ac"/>
<polygon points="494.20,578.30 482.70,578.30 482.70,575.50 474.20,580.00 482.70,584.50 482.70,581.70 494.20,581.70" fill="#7f69ac"/>
<polygon points="427.47,577.04 429.17,568.67 431.91,569.23 429.20,560.00 423.09,567.43 425.84,567.99 424.13,576.36" fill="#7f69ac"/>
<polygon points="443.36,598.66 445.68,587.87 448.42,588.46 445.80,579.20 439.62,586.57 442.35,587.15 440.04,597.94" fill="#7f69ac"/>
<g filter="url(#b2)">
<ellipse cx="775.50" cy="407.00" rx="2.20" ry="2.20" fill="#000" opacity="0.5"/>
<ellipse cx="831.00" cy="397.50" rx="4.00" ry="6.00" fill="#000" opacity="0.42" transform="rotate(10 831.00 397.50)"/>
<polygon points="649.24,500.08 654.05,497.68 657.06,501.29 657.66,508.51 655.25,514.52 650.44,515.73 648.03,510.91 648.64,504.90" fill="#000"/>
<polygon points="648.03,520.54 652.85,519.34 657.66,525.35 660.07,532.58 657.66,537.39 652.85,538.59 648.64,534.98 647.43,527.76" fill="#000"/>
<ellipse cx="655.25" cy="491.66" rx="6.02" ry="4.81" fill="#000" opacity="0.5"/>
<ellipse cx="669.94" cy="478.42" rx="1.81" ry="3.61" fill="#000" opacity="0.5" transform="rotate(-30 669.94 478.42)"/>
<polygon points="685.34,509.71 692.56,504.90 700.98,500.69 708.80,500.69 707.00,507.30 703.39,512.12 699.78,515.73 692.56,519.34 691.35,526.56 692.56,534.98 688.95,538.59 681.73,537.39 675.71,532.58 674.51,521.74 675.71,514.52 678.12,513.32 685.34,513.32" fill="#000"/>
<polygon points="650.44,554.24 656.46,553.03 662.47,554.24 669.69,551.83 675.71,550.63 680.52,554.24 681.73,561.46 676.91,566.27 670.90,568.68 663.68,568.68 658.86,573.49 655.25,575.90 654.05,571.08 650.44,563.86" fill="#000"/>
<polygon points="666.08,577.10 673.30,575.90 679.32,578.30 681.73,581.91 675.71,585.52 669.69,586.73 666.08,583.12" fill="#000"/>
<polygon points="700.98,549.42 708.20,545.81 717.83,546.41 720.24,550.63 713.02,556.64 705.80,563.86 700.98,568.68 696.17,565.07 692.56,561.46 697.37,557.85 700.98,554.24" fill="#000"/>
<polygon points="727.46,542.20 732.27,541.00 735.88,544.61 735.88,550.63 729.86,551.83 726.25,548.22" fill="#000"/>
<ellipse cx="723.85" cy="567.47" rx="3.01" ry="3.01" fill="#000"/>
<ellipse cx="731.07" cy="519.34" rx="2.41" ry="2.41" fill="#000" opacity="0.8"/>
<ellipse cx="733.61" cy="520.54" rx="3.01" ry="3.01" fill="#000" opacity="0.85"/>
<polygon points="748.05,554.24 754.07,554.24 766.10,568.68 767.30,574.69 761.29,575.90 748.05,561.46" fill="#000" opacity="0.9"/>
<polygon points="761.29,526.56 767.30,521.74 774.52,522.95 778.13,530.17 778.13,542.20 774.52,545.81 769.71,542.20 763.69,541.00 758.88,542.20 757.68,537.39" fill="#000"/>
<ellipse cx="770.91" cy="551.83" rx="2.65" ry="2.65" fill="#000"/>
<polygon points="772.12,567.47 779.34,565.07 785.35,560.25 788.97,562.66 788.97,569.88 784.15,574.69 776.93,573.49 771.52,571.08" fill="#000"/>
<ellipse cx="799.80" cy="570.48" rx="3.61" ry="3.61" fill="#000"/>
<polygon points="786.56,595.15 802.20,592.74 814.24,592.14 830.00,593.95 830.00,599.36 802.20,599.96 786.56,598.76" fill="#000"/>
<ellipse cx="734.81" cy="583.12" rx="3.01" ry="1.44" fill="#000" opacity="0.5" transform="rotate(40 734.81 583.12)"/>
<polygon points="848.13,522.12 855.35,519.71 864.98,520.91 867.39,525.73 862.58,531.74 869.80,537.76 873.41,544.98 873.41,554.61 872.20,564.24 867.39,570.25 858.97,573.86 850.54,572.66 845.73,569.05 840.91,561.83 833.69,558.22 830.08,552.20 832.49,548.59 839.71,549.80 848.13,552.20 852.95,547.39 850.54,536.56 850.54,530.54 846.93,525.73" fill="#000"/>
<ellipse cx="863.18" cy="563.03" rx="1.44" ry="1.44" fill="#999" opacity="0.8"/>
<polygon points="863.78,573.86 871.00,572.66 874.01,578.68 872.20,584.69 866.19,587.10 862.58,582.29" fill="#000"/>
<polygon points="821.66,542.58 826.47,540.17 831.29,542.58 831.29,547.39 826.47,549.80 821.66,547.39" fill="#000"/>
<polygon points="800.00,591.91 818.05,591.31 832.49,597.93 818.05,600.34 800.00,600.34" fill="#000"/>
</g>
<g filter="url(#b3)"><ellipse cx="725.05" cy="565.07" rx="10.83" ry="7.22" opacity="0.4"/><ellipse cx="725.19" cy="542.20" rx="6.02" ry="3.01" opacity="0.3" transform="rotate(-20 725.19 542.20)"/><polygon points="730.00,561.46 742.03,554.24 750.46,549.42 756.47,556.64 766.10,568.68 767.30,574.69 761.29,575.90 754.07,568.68 745.64,565.07 730.00,572.29" fill="#000" opacity="0.45"/><ellipse cx="778.13" cy="557.85" rx="7.22" ry="3.01" opacity="0.4" transform="rotate(20 778.13 557.85)"/><ellipse cx="796.19" cy="585.52" rx="6.62" ry="3.61" opacity="0.35"/><polygon points="836.10,517.30 845.73,508.88 857.76,506.47 860.17,498.05 864.98,501.66 867.39,511.29 860.17,516.10 850.54,516.10 845.73,519.71" fill="#000" opacity="0.22"/><ellipse cx="840.91" cy="547.39" rx="7.22" ry="3.61" opacity="0.35"/><ellipse cx="860" cy="550" rx="24" ry="28" opacity="0.12"/><ellipse cx="738" cy="560" rx="40" ry="14" opacity="0.2"/><ellipse cx="700" cy="540" rx="22" ry="22" opacity="0.18"/><ellipse cx="655" cy="520" rx="12" ry="35" opacity="0.2"/><ellipse cx="772" cy="550" rx="14" ry="26" opacity="0.22"/><ellipse cx="800" cy="590" rx="30" ry="10" opacity="0.15"/><ellipse cx="835" cy="548" rx="12" ry="10" opacity="0.3"/></g>
<text x="814.00" y="396.80" font-size="12.37" font-weight="bold" fill="#111" text-anchor="middle">2</text>
<text x="775.50" y="425.55" font-size="12.37" font-weight="bold" fill="#111" text-anchor="middle">1</text>
<text x="858.00" y="393.30" font-size="9.50" font-weight="bold" fill="#222" text-anchor="start" textLength="64.25" lengthAdjust="spacingAndGlyphs">Myosin Heavy</text>
<text x="858.00" y="405.30" font-size="9.50" font-weight="bold" fill="#222" text-anchor="start" textLength="81.75" lengthAdjust="spacingAndGlyphs">Chain α (200 kDa)</text>
<text x="802.25" y="423.30" font-size="9.50" font-weight="bold" fill="#222" text-anchor="start" textLength="63.75" lengthAdjust="spacingAndGlyphs">Myosin Heavy</text>
<text x="802.25" y="435.80" font-size="9.50" font-weight="bold" fill="#222" text-anchor="start" textLength="76.75" lengthAdjust="spacingAndGlyphs">Chain β 200 kDa)</text>
<polygon points="858.00,395.40 847.75,395.40 847.75,392.75 839.75,397.00 847.75,401.25 847.75,398.60 858.00,398.60" fill="#7f69ac"/>
<polygon points="799.39,417.92 788.53,410.63 790.01,408.43 781.00,407.50 785.27,415.49 786.75,413.29 797.61,420.58" fill="#7f69ac"/>
<text x="654.20" y="466.00" font-size="12.37" font-weight="bold" fill="#111" text-anchor="middle">3</text>
<text x="705.00" y="470.10" font-size="12.37" font-weight="bold" fill="#111" text-anchor="middle">4</text>
<text x="673.00" y="497.30" font-size="12.37" font-weight="bold" fill="#111" text-anchor="middle">24</text>
<text x="778.00" y="506.80" font-size="12.37" font-weight="bold" fill="#111" text-anchor="middle">6</text>
<text x="718.80" y="521.80" font-size="12.37" font-weight="bold" fill="#111" text-anchor="middle">22</text>
<text x="745.00" y="521.80" font-size="12.37" font-weight="bold" fill="#111" text-anchor="middle">21</text>
<text x="802.50" y="517.60" font-size="12.37" font-weight="bold" fill="#111" text-anchor="middle">7</text>
<text x="812.50" y="531.00" font-size="12.37" font-weight="bold" fill="#111" text-anchor="middle">8</text>
<text x="665.00" y="525.10" font-size="12.37" font-weight="bold" fill="#111" text-anchor="middle">25</text>
<text x="704.70" y="541.80" font-size="12.37" font-weight="bold" fill="#111" text-anchor="middle">23</text>
<text x="794.20" y="545.10" font-size="12.37" font-weight="bold" fill="#111" text-anchor="middle">19</text>
<text x="808.30" y="548.50" font-size="12.37" font-weight="bold" fill="#111" text-anchor="middle">18</text>
<text x="640.80" y="561.80" font-size="12.37" font-weight="bold" fill="#111" text-anchor="middle">26</text>
<text x="815.00" y="572.60" font-size="12.37" font-weight="bold" fill="#111" text-anchor="middle">17</text>
<text x="689.20" y="590.10" font-size="12.37" font-weight="bold" fill="#111" text-anchor="middle">29</text>
<text x="725.00" y="606.00" font-size="12.37" font-weight="bold" fill="#111" text-anchor="middle">28</text>
<text x="754.20" y="606.80" font-size="12.37" font-weight="bold" fill="#111" text-anchor="middle">20</text>
<text x="777.50" y="607.60" font-size="12.37" font-weight="bold" fill="#111" text-anchor="middle">27</text>
<text x="679.20" y="620.10" font-size="12.37" font-weight="bold" fill="#111" text-anchor="middle">30</text>
<text x="880.00" y="501.80" font-size="12.37" font-weight="bold" fill="#111" text-anchor="middle">10</text>
<text x="829.70" y="524.30" font-size="12.37" font-weight="bold" fill="#111" text-anchor="middle">9</text>
<text x="900.00" y="528.50" font-size="12.37" font-weight="bold" fill="#111" text-anchor="middle">11</text>
<text x="905.80" y="544.00" font-size="12.37" font-weight="bold" fill="#111" text-anchor="middle">12</text>
<text x="911.70" y="559.30" font-size="12.37" font-weight="bold" fill="#111" text-anchor="middle">13</text>
<text x="905.00" y="584.30" font-size="12.37" font-weight="bold" fill="#111" text-anchor="middle">14</text>
<text x="828.30" y="591.80" font-size="12.37" font-weight="bold" fill="#111" text-anchor="middle">16</text>
<text x="845.80" y="609.30" font-size="12.37" font-weight="bold" fill="#111" text-anchor="middle">15</text>
<text x="735.00" y="488.00" font-size="8.63" font-weight="bold" fill="#111" text-anchor="middle">5</text>
<text x="702.50" y="481.00" font-size="8.63" font-weight="bold" fill="#222" text-anchor="start" textLength="49.20" lengthAdjust="spacingAndGlyphs">Ro (60kDa)</text>
<text x="725.00" y="496.00" font-size="8.63" font-weight="bold" fill="#222" text-anchor="start" textLength="50.00" lengthAdjust="spacingAndGlyphs">Ro (52kDa)</text>
<polygon points="651.60,467.50 651.60,476.50 648.80,476.50 653.30,485.00 657.80,476.50 655.00,476.50 655.00,467.50" fill="#7f69ac"/>
<polygon points="705.87,481.21 703.32,489.67 700.64,488.86 702.50,498.30 709.26,491.46 706.58,490.65 709.13,482.19" fill="#7f69ac"/>
<polygon points="668.53,499.15 670.06,501.80 667.64,503.20 675.80,508.30 675.43,498.69 673.01,500.09 671.47,497.45" fill="#7f69ac"/>
<polygon points="677.32,537.62 670.23,534.83 671.26,532.22 661.70,533.30 667.96,540.60 668.99,537.99 676.08,540.78" fill="#7f69ac"/>
<polygon points="640.13,536.44 642.71,542.77 640.12,543.83 647.50,550.00 648.45,540.43 645.86,541.49 643.27,535.16" fill="#7f69ac"/>
<polygon points="715.88,523.69 713.44,531.38 710.77,530.54 712.50,540.00 719.35,533.25 716.69,532.41 719.12,524.71" fill="#7f69ac"/>
<polygon points="743.39,501.16 741.08,508.10 738.42,507.21 740.00,516.70 746.96,510.06 744.30,509.17 746.61,502.24" fill="#7f69ac"/>
<polygon points="747.60,527.73 744.53,536.42 741.89,535.49 743.30,545.00 750.37,538.48 747.73,537.55 750.80,528.87" fill="#7f69ac"/>
<polygon points="784.66,497.94 772.65,508.83 770.77,506.76 767.50,515.80 776.82,513.42 774.94,511.35 786.94,500.46" fill="#7f69ac"/>
<polygon points="795.61,516.20 786.23,524.04 784.43,521.89 780.80,530.80 790.21,528.80 788.41,526.65 797.79,518.80" fill="#7f69ac"/>
<polygon points="789.21,546.90 788.13,549.75 785.51,548.76 786.70,558.30 793.92,551.95 791.31,550.96 792.39,548.10" fill="#7f69ac"/>
<polygon points="804.21,549.40 802.20,554.75 799.58,553.76 800.80,563.30 808.00,556.93 805.38,555.94 807.39,550.60" fill="#7f69ac"/>
<polygon points="816.66,572.85 814.80,579.65 812.10,578.91 814.20,588.30 820.78,581.29 818.08,580.55 819.94,573.75" fill="#7f69ac"/>
<polygon points="691.25,577.15 687.02,572.58 689.08,570.68 680.00,567.50 682.47,576.79 684.53,574.89 688.75,579.45" fill="#7f69ac"/>
<polygon points="679.20,607.50 679.20,599.30 682.00,599.30 677.50,590.80 673.00,599.30 675.80,599.30 675.80,607.50" fill="#7f69ac"/>
<polygon points="727.50,595.00 727.50,585.20 730.30,585.20 725.80,576.70 721.30,585.20 724.10,585.20 724.10,595.00" fill="#7f69ac"/>
<polygon points="762.50,597.50 762.50,587.70 765.30,587.70 760.80,579.20 756.30,587.70 759.10,587.70 759.10,597.50" fill="#7f69ac"/>
<polygon points="777.50,592.50 777.50,583.50 780.30,583.50 775.80,575.00 771.30,583.50 774.10,583.50 774.10,592.50" fill="#7f69ac"/>
<polygon points="874.18,502.79 870.93,513.08 868.26,512.24 870.00,521.70 876.85,514.95 874.18,514.10 877.42,503.81" fill="#7f69ac"/>
<polygon points="831.77,530.74 839.89,534.59 838.69,537.12 848.30,536.70 842.55,528.99 841.35,531.52 833.23,527.66" fill="#7f69ac"/>
<polygon points="815.28,527.64 817.20,530.54 814.86,532.08 823.30,536.70 822.37,527.13 820.04,528.67 818.12,525.76" fill="#7f69ac"/>
<polygon points="892.38,521.07 881.25,528.19 879.74,525.83 875.00,534.20 884.59,533.41 883.08,531.05 894.22,523.93" fill="#7f69ac"/>
<polygon points="899.12,536.05 887.17,543.33 885.72,540.93 880.80,549.20 890.40,548.62 888.94,546.23 900.88,538.95" fill="#7f69ac"/>
<polygon points="902.97,555.03 886.30,558.37 885.75,555.62 878.30,561.70 887.52,564.45 886.97,561.70 903.63,558.37" fill="#7f69ac"/>
<polygon points="896.70,578.30 886.00,578.30 886.00,575.50 877.50,580.00 886.00,584.50 886.00,581.70 896.70,581.70" fill="#7f69ac"/>
<polygon points="835.87,580.33 837.52,571.97 840.27,572.51 837.50,563.30 831.44,570.77 834.18,571.31 832.53,579.67" fill="#7f69ac"/>
<polygon points="846.58,593.94 850.10,585.22 852.69,586.27 851.70,576.70 844.35,582.90 846.94,583.95 843.42,592.66" fill="#7f69ac"/>
<g filter="url(#b2)">
<ellipse cx="1238.00" cy="397.00" rx="3.00" ry="5.00" fill="#000" opacity="0.35" transform="rotate(10 1238.00 397.00)"/>
<ellipse cx="1184.00" cy="409.50" rx="1.50" ry="1.50" fill="#000" opacity="0.3"/>
<polygon points="1043.85,491.66 1049.86,490.46 1052.27,496.47 1051.07,506.10 1048.66,515.73 1051.07,521.74 1054.68,525.35 1055.88,534.98 1051.07,541.00 1042.64,543.41 1039.03,538.59 1040.24,526.56 1042.64,518.13 1041.44,509.71 1042.64,500.08" fill="#000"/>
<ellipse cx="1065.51" cy="478.42" rx="1.81" ry="4.21" fill="#000" opacity="0.5" transform="rotate(-40 1065.51 478.42)"/>
<polygon points="1060.69,513.32 1066.71,512.12 1072.73,513.32 1079.95,509.71 1089.58,503.69 1099.20,501.29 1105.22,502.49 1101.61,509.71 1096.80,518.13 1089.58,521.74 1085.97,526.56 1089.58,537.39 1085.97,542.20 1078.74,541.00 1072.73,537.39 1069.12,530.17 1067.91,519.34 1061.90,518.13" fill="#000"/>
<polygon points="1041.44,554.24 1051.07,553.03 1057.08,556.64 1063.10,553.03 1071.52,551.83 1077.54,555.44 1077.54,563.86 1072.73,571.08 1065.51,573.49 1059.49,572.29 1053.47,573.49 1046.25,571.08 1041.44,563.86" fill="#000"/>
<ellipse cx="1049.26" cy="577.70" rx="4.21" ry="4.81" fill="#000" opacity="0.5"/>
<polygon points="1057.08,578.30 1065.51,575.90 1073.93,577.10 1075.13,584.32 1069.12,589.13 1060.69,590.34 1057.08,585.52" fill="#000"/>
<polygon points="1090.78,556.64 1099.20,550.63 1110.03,548.22 1116.05,550.63 1113.64,556.64 1105.22,563.86 1099.20,572.29 1093.19,573.49 1088.37,567.47" fill="#000"/>
<ellipse cx="1128.05" cy="549.42" rx="6.02" ry="6.02" fill="#000"/>
<ellipse cx="1122.03" cy="531.97" rx="5.42" ry="1.81" fill="#000" opacity="0.5" transform="rotate(-15 1122.03 531.97)"/>
<ellipse cx="1112.41" cy="551.83" rx="3.61" ry="4.81" fill="#000"/>
<polygon points="1143.69,559.05 1149.71,557.24 1155.73,562.06 1162.95,572.29 1164.15,578.30 1159.34,580.71 1152.12,573.49 1143.69,566.27" fill="#000" opacity="0.9"/>
<ellipse cx="1120.83" cy="572.29" rx="4.21" ry="3.61" fill="#000" opacity="0.85"/>
<polygon points="1160.54,530.17 1166.56,525.35 1173.78,526.56 1177.39,532.58 1177.39,544.61 1172.58,549.42 1167.76,544.61 1160.54,544.61 1155.73,543.41 1156.93,537.39" fill="#000"/>
<ellipse cx="1170.17" cy="556.64" rx="2.65" ry="2.65" fill="#000"/>
<polygon points="1171.37,572.29 1179.80,569.88 1187.02,566.27 1190.63,569.88 1188.22,577.10 1182.20,579.51 1174.98,578.30 1170.77,575.29" fill="#000"/>
<ellipse cx="1200.25" cy="576.50" rx="3.61" ry="3.01" fill="#000"/>
<ellipse cx="1130.46" cy="587.93" rx="3.01" ry="1.44" fill="#000" opacity="0.5" transform="rotate(40 1130.46 587.93)"/>
<polygon points="1253.78,526.93 1262.20,524.52 1270.63,526.93 1273.03,531.74 1268.22,536.56 1274.24,543.78 1279.05,552.20 1279.05,564.24 1276.64,573.86 1271.83,578.68 1262.20,579.88 1252.58,576.27 1246.56,569.05 1238.13,563.03 1232.12,558.22 1228.51,553.41 1233.32,552.20 1242.95,554.61 1252.58,557.02 1257.39,552.20 1257.39,542.58 1254.98,536.56 1252.58,531.74" fill="#000"/>
<ellipse cx="1267.62" cy="569.65" rx="1.68" ry="1.68" fill="#999" opacity="0.8"/>
<polygon points="1267.02,581.08 1274.24,579.88 1277.85,584.69 1276.64,591.91 1270.63,594.32 1267.02,589.51" fill="#000"/>
<polygon points="1223.69,548.59 1228.51,545.58 1234.52,547.39 1235.73,552.20 1230.91,554.61 1224.90,553.41" fill="#000"/>
<polygon points="1177.97,599.13 1202.03,597.93 1220.08,599.13 1241.74,603.95 1220.08,606.35 1190.00,606.35 1177.97,605.15" fill="#000"/>
</g>
<g filter="url(#b3)"><ellipse cx="1050.47" cy="489.25" rx="5.42" ry="3.01" opacity="0.45"/><ellipse cx="1052.27" cy="474.81" rx="1.44" ry="1.44" opacity="0.4"/><ellipse cx="1122.07" cy="532.58" rx="5.42" ry="1.44" opacity="0.45" transform="rotate(-15 1122.07 532.58)"/><ellipse cx="1128.05" cy="549.42" rx="9.03" ry="9.03" opacity="0.18"/><polygon points="1110.00,554.24 1122.03,554.24 1142.49,554.24 1149.71,556.64 1155.73,561.46 1162.95,572.29 1164.15,578.30 1159.34,580.71 1152.12,573.49 1143.69,569.88 1129.25,571.08 1122.03,578.30 1110.00,573.49" fill="#000" opacity="0.45"/><ellipse cx="1176.19" cy="562.66" rx="6.02" ry="3.01" opacity="0.4" transform="rotate(30 1176.19 562.66)"/><ellipse cx="1194.84" cy="591.54" rx="6.62" ry="3.61" opacity="0.35"/><polygon points="1240.54,518.51 1250.17,514.90 1262.20,514.90 1268.22,510.08 1274.24,516.10 1273.03,525.73 1262.20,523.32 1252.58,525.73 1244.15,528.13 1238.13,523.32" fill="#000" opacity="0.22"/><ellipse cx="1244.15" cy="552.20" rx="9.63" ry="3.01" opacity="0.3"/><ellipse cx="1258" cy="555" rx="24" ry="28" opacity="0.12"/><ellipse cx="1130" cy="565" rx="40" ry="14" opacity="0.2"/><ellipse cx="1085" cy="540" rx="25" ry="25" opacity="0.18"/><ellipse cx="1047" cy="525" rx="12" ry="35" opacity="0.2"/><ellipse cx="1166" cy="548" rx="14" ry="26" opacity="0.22"/><ellipse cx="1200" cy="595" rx="30" ry="10" opacity="0.15"/><ellipse cx="1232" cy="553" rx="12" ry="10" opacity="0.3"/></g>
<text x="1222.75" y="401.30" font-size="12.37" font-weight="bold" fill="#111" text-anchor="middle">2</text>
<text x="1182.75" y="429.80" font-size="12.37" font-weight="bold" fill="#111" text-anchor="middle">1</text>
<text x="1256.00" y="393.80" font-size="9.50" font-weight="bold" fill="#222" text-anchor="start" textLength="66.00" lengthAdjust="spacingAndGlyphs">Myosin Heavy</text>
<text x="1256.00" y="405.80" font-size="9.50" font-weight="bold" fill="#222" text-anchor="start" textLength="83.50" lengthAdjust="spacingAndGlyphs">Chain α (200 kDa)</text>
<text x="1200.25" y="425.80" font-size="9.50" font-weight="bold" fill="#222" text-anchor="start" textLength="66.25" lengthAdjust="spacingAndGlyphs">Myosin Heavy</text>
<text x="1200.25" y="438.80" font-size="9.50" font-weight="bold" fill="#222" text-anchor="start" textLength="79.25" lengthAdjust="spacingAndGlyphs">Chain β 200 kDa)</text>
<polygon points="1256.00,394.65 1252.00,394.65 1252.00,392.00 1244.00,396.25 1252.00,400.50 1252.00,397.85 1256.00,397.85" fill="#7f69ac"/>
<polygon points="1198.72,418.73 1191.33,413.08 1192.94,410.98 1184.00,409.50 1187.78,417.73 1189.39,415.63 1196.78,421.27" fill="#7f69ac"/>
<text x="1038.00" y="471.80" font-size="12.37" font-weight="bold" fill="#111" text-anchor="middle">3</text>
<text x="1090.00" y="475.10" font-size="12.37" font-weight="bold" fill="#111" text-anchor="middle">4</text>
<text x="1072.50" y="500.10" font-size="12.37" font-weight="bold" fill="#111" text-anchor="middle">24</text>
<text x="1120.00" y="500.10" font-size="12.37" font-weight="bold" fill="#111" text-anchor="middle">5</text>
<text x="1181.30" y="510.10" font-size="12.37" font-weight="bold" fill="#111" text-anchor="middle">6</text>
<text x="1107.50" y="529.30" font-size="12.37" font-weight="bold" fill="#111" text-anchor="middle">22</text>
<text x="1130.80" y="528.50" font-size="12.37" font-weight="bold" fill="#111" text-anchor="middle">21</text>
<text x="1198.70" y="524.30" font-size="12.37" font-weight="bold" fill="#111" text-anchor="middle">7</text>
<text x="1090.00" y="549.30" font-size="12.37" font-weight="bold" fill="#111" text-anchor="middle">23</text>
<text x="1190.00" y="551.00" font-size="12.37" font-weight="bold" fill="#111" text-anchor="middle">19</text>
<text x="1032.50" y="566.00" font-size="12.37" font-weight="bold" fill="#111" text-anchor="middle">26</text>
<text x="1085.80" y="584.30" font-size="12.37" font-weight="bold" fill="#111" text-anchor="middle">29</text>
<text x="1097.00" y="611.00" font-size="12.37" font-weight="bold" fill="#111" text-anchor="middle">28</text>
<text x="1123.30" y="611.80" font-size="12.37" font-weight="bold" fill="#111" text-anchor="middle">20</text>
<text x="1155.80" y="612.60" font-size="12.37" font-weight="bold" fill="#111" text-anchor="middle">27</text>
<text x="1067.50" y="621.30" font-size="12.37" font-weight="bold" fill="#111" text-anchor="middle">30</text>
<text x="1269.20" y="508.50" font-size="12.37" font-weight="bold" fill="#111" text-anchor="middle">10</text>
<text x="1213.30" y="533.50" font-size="12.37" font-weight="bold" fill="#111" text-anchor="middle">8</text>
<text x="1231.30" y="527.30" font-size="12.37" font-weight="bold" fill="#111" text-anchor="middle">9</text>
<text x="1288.30" y="536.00" font-size="12.37" font-weight="bold" fill="#111" text-anchor="middle">11</text>
<text x="1207.50" y="555.60" font-size="12.37" font-weight="bold" fill="#111" text-anchor="middle">18</text>
<text x="1295.00" y="551.80" font-size="12.37" font-weight="bold" fill="#111" text-anchor="middle">12</text>
<text x="1301.70" y="566.80" font-size="12.37" font-weight="bold" fill="#111" text-anchor="middle">13</text>
<text x="1217.50" y="581.00" font-size="12.37" font-weight="bold" fill="#111" text-anchor="middle">17</text>
<text x="1293.30" y="592.60" font-size="12.37" font-weight="bold" fill="#111" text-anchor="middle">14</text>
<text x="1229.20" y="600.10" font-size="12.37" font-weight="bold" fill="#111" text-anchor="middle">16</text>
<text x="1246.70" y="618.50" font-size="12.37" font-weight="bold" fill="#111" text-anchor="middle">15</text>
<text x="1095.80" y="475.50" font-size="8.63" font-weight="bold" fill="#222" text-anchor="start" textLength="50.90" lengthAdjust="spacingAndGlyphs">Ro (60kDa)</text>
<text x="1123.30" y="498.00" font-size="8.63" font-weight="bold" fill="#222" text-anchor="start" textLength="52.50" lengthAdjust="spacingAndGlyphs">Ro (52kDa)</text>
<polygon points="1035.80,473.30 1035.80,485.70 1033.00,485.70 1037.50,494.20 1042.00,485.70 1039.20,485.70 1039.20,473.30" fill="#7f69ac"/>
<polygon points="1105.07,477.81 1102.51,486.37 1099.83,485.57 1101.70,495.00 1108.45,488.15 1105.77,487.34 1108.33,478.79" fill="#7f69ac"/>
<polygon points="1070.81,502.66 1070.79,502.50 1068.01,502.77 1073.30,510.80 1076.96,501.91 1074.18,502.18 1074.19,502.34" fill="#7f69ac"/>
<polygon points="1028.52,542.54 1031.84,548.43 1029.41,549.81 1037.50,555.00 1037.24,545.39 1034.81,546.76 1031.48,540.86" fill="#7f69ac"/>
<polygon points="1062.50,536.00 1062.50,536.50 1059.70,536.50 1064.20,545.00 1068.70,536.50 1065.90,536.50 1065.90,536.00" fill="#7f69ac"/>
<polygon points="1096.48,539.44 1086.59,546.85 1084.91,544.60 1080.80,553.30 1090.30,551.81 1088.62,549.57 1098.52,542.16" fill="#7f69ac"/>
<polygon points="1110.08,530.29 1108.42,535.58 1105.75,534.74 1107.50,544.20 1114.34,537.43 1111.66,536.60 1113.32,531.31" fill="#7f69ac"/>
<polygon points="1137.61,501.11 1134.68,508.94 1132.06,507.96 1133.30,517.50 1140.49,511.11 1137.87,510.13 1140.79,502.29" fill="#7f69ac"/>
<polygon points="1147.93,524.67 1140.20,533.33 1138.11,531.46 1135.80,540.80 1144.82,537.46 1142.73,535.59 1150.47,526.93" fill="#7f69ac"/>
<polygon points="1174.19,503.67 1171.06,513.10 1168.40,512.22 1170.00,521.70 1176.95,515.05 1174.29,514.17 1177.41,504.73" fill="#7f69ac"/>
<polygon points="1197.23,523.68 1186.33,532.52 1184.57,530.35 1180.80,539.20 1190.24,537.34 1188.47,535.16 1199.37,526.32" fill="#7f69ac"/>
<polygon points="1190.02,553.02 1189.75,554.64 1186.99,554.17 1190.00,563.30 1195.86,555.67 1193.10,555.21 1193.38,553.58" fill="#7f69ac"/>
<polygon points="1207.65,557.61 1204.41,564.85 1201.86,563.70 1202.50,573.30 1210.08,567.37 1207.52,566.23 1210.75,558.99" fill="#7f69ac"/>
<polygon points="1096.70,593.30 1096.70,584.30 1099.50,584.30 1095.00,575.80 1090.50,584.30 1093.30,584.30 1093.30,593.30" fill="#7f69ac"/>
<polygon points="1069.20,610.00 1069.20,599.30 1072.00,599.30 1067.50,590.80 1063.00,599.30 1065.80,599.30 1065.80,610.00" fill="#7f69ac"/>
<polygon points="1120.90,603.30 1120.90,592.70 1123.70,592.70 1119.20,584.20 1114.70,592.70 1117.50,592.70 1117.50,603.30" fill="#7f69ac"/>
<polygon points="1156.70,600.80 1156.70,590.20 1159.50,590.20 1155.00,581.70 1150.50,590.20 1153.30,590.20 1153.30,600.80" fill="#7f69ac"/>
<polygon points="1277.55,505.40 1275.33,514.64 1272.61,513.98 1275.00,523.30 1281.36,516.08 1278.64,515.43 1280.85,506.20" fill="#7f69ac"/>
<polygon points="1230.10,533.25 1239.05,537.27 1237.90,539.82 1247.50,539.20 1241.59,531.61 1240.44,534.17 1231.50,530.15" fill="#7f69ac"/>
<polygon points="1214.46,533.54 1217.64,537.63 1215.43,539.35 1224.20,543.30 1222.53,533.83 1220.32,535.55 1217.14,531.46" fill="#7f69ac"/>
<polygon points="1285.87,534.32 1279.89,537.67 1278.52,535.22 1273.30,543.30 1282.92,543.08 1281.55,540.63 1287.53,537.28" fill="#7f69ac"/>
<polygon points="1290.13,546.74 1286.33,548.37 1285.22,545.80 1279.20,553.30 1288.79,554.07 1287.68,551.50 1291.47,549.86" fill="#7f69ac"/>
<polygon points="1294.92,556.04 1285.60,561.66 1284.16,559.26 1279.20,567.50 1288.80,566.97 1287.36,564.57 1296.68,558.96" fill="#7f69ac"/>
<polygon points="1291.70,586.60 1286.80,586.60 1286.80,583.80 1278.30,588.30 1286.80,592.80 1286.80,590.00 1291.70,590.00" fill="#7f69ac"/>
<polygon points="1234.98,584.43 1236.34,574.45 1239.11,574.83 1235.80,565.80 1230.20,573.62 1232.97,573.99 1231.62,583.97" fill="#7f69ac"/>
<polygon points="1251.60,597.28 1255.39,586.87 1258.02,587.83 1256.70,578.30 1249.56,584.75 1252.19,585.71 1248.40,596.12" fill="#7f69ac"/>
<polygon points="1217.58,581.18 1214.29,591.39 1211.63,590.53 1213.30,600.00 1220.19,593.29 1217.53,592.43 1220.82,582.22" fill="#7f69ac"/>
<rect x="0" y="673.25" width="208.75" height="198.50" fill="#cacaca"/>
<text x="13.88" y="713.10" font-size="41.29" fill="#000" text-anchor="middle" stroke="#000" stroke-width="1.3" stroke-linejoin="round">1</text>
<text x="5.30" y="864.70" font-size="27.91" fill="#000" text-anchor="start" textLength="93.15" lengthAdjust="spacingAndGlyphs" stroke="#000" stroke-width="0.6" stroke-linejoin="round">15.9 wk</text>
<rect x="218" y="674.25" width="208.75" height="197.50" fill="#cacaca"/>
<text x="233.75" y="712.85" font-size="40.94" fill="#000" text-anchor="middle" stroke="#000" stroke-width="1.3" stroke-linejoin="round">2</text>
<text x="222.30" y="864.70" font-size="27.91" fill="#000" text-anchor="start" textLength="70.40" lengthAdjust="spacingAndGlyphs" stroke="#000" stroke-width="0.6" stroke-linejoin="round">18 wk</text>
<rect x="434.25" y="674.25" width="208.75" height="197.50" fill="#cacaca"/>
<text x="450.75" y="713.35" font-size="41.65" fill="#000" text-anchor="middle" stroke="#000" stroke-width="1.3" stroke-linejoin="round">3</text>
<text x="439.55" y="864.70" font-size="27.91" fill="#000" text-anchor="start" textLength="70.65" lengthAdjust="spacingAndGlyphs" stroke="#000" stroke-width="0.6" stroke-linejoin="round">18 wk</text>
<rect x="651.25" y="674.25" width="208.50" height="197.50" fill="#cacaca"/>
<text x="668.00" y="712.85" font-size="40.94" fill="#000" text-anchor="middle" stroke="#000" stroke-width="1.3" stroke-linejoin="round">4</text>
<text x="657.05" y="864.70" font-size="27.91" fill="#000" text-anchor="start" textLength="93.15" lengthAdjust="spacingAndGlyphs" stroke="#000" stroke-width="0.6" stroke-linejoin="round">18.7 wk</text>
<rect x="869.25" y="673.25" width="207.50" height="197.50" fill="#cacaca"/>
<text x="883.50" y="711.35" font-size="42.37" fill="#000" text-anchor="middle" stroke="#000" stroke-width="1.3" stroke-linejoin="round">5</text>
<text x="875.80" y="863.70" font-size="26.47" fill="#000" text-anchor="start" textLength="91.90" lengthAdjust="spacingAndGlyphs" stroke="#000" stroke-width="0.6" stroke-linejoin="round">19.7 wk</text>
<rect x="1085.25" y="674.25" width="208.75" height="198.25" fill="#cacaca"/>
<text x="1100.50" y="711.85" font-size="42.37" fill="#000" text-anchor="middle" stroke="#000" stroke-width="1.3" stroke-linejoin="round">6</text>
<text x="1091.70" y="863.70" font-size="25.04" fill="#000" text-anchor="start" textLength="93.40" lengthAdjust="spacingAndGlyphs" stroke="#000" stroke-width="0.6" stroke-linejoin="round">27.1 wk</text>
<rect x="1303.25" y="674.25" width="208.75" height="198.25" fill="#cacaca"/>
<text x="1318.12" y="711.35" font-size="42.37" fill="#000" text-anchor="middle" stroke="#000" stroke-width="1.3" stroke-linejoin="round">7</text>
<text x="1309.30" y="862.70" font-size="26.47" fill="#000" text-anchor="start" textLength="70.65" lengthAdjust="spacingAndGlyphs" stroke="#000" stroke-width="0.6" stroke-linejoin="round">34 wk</text>
<rect x="0" y="882.5" width="208.75" height="197.50" fill="#cacaca"/>
<text x="13.12" y="921.35" font-size="43.45" fill="#000" text-anchor="middle" stroke="#000" stroke-width="1.3" stroke-linejoin="round">8</text>
<rect x="217" y="882.5" width="209.00" height="197.50" fill="#cacaca"/>
<text x="233.12" y="921.35" font-size="43.45" fill="#000" text-anchor="middle" stroke="#000" stroke-width="1.3" stroke-linejoin="round">9</text>
<rect x="434.25" y="883" width="205.50" height="197.00" fill="#cacaca"/>
<text x="436.65" y="921.85" font-size="44.17" fill="#000" text-anchor="start" textLength="45.20" lengthAdjust="spacingAndGlyphs" stroke="#000" stroke-width="1.3" stroke-linejoin="round">10</text>
<rect x="868.5" y="881.25" width="209.25" height="198.75" fill="#cacaca"/>
<text x="872.15" y="919.35" font-size="43.09" fill="#000" text-anchor="start" textLength="42.70" lengthAdjust="spacingAndGlyphs" stroke="#000" stroke-width="1.3" stroke-linejoin="round">11</text>
<rect x="1085.25" y="879.5" width="210.75" height="196.25" fill="#cacaca"/>
<text x="1089.15" y="919.35" font-size="43.09" fill="#000" text-anchor="start" textLength="43.70" lengthAdjust="spacingAndGlyphs" stroke="#000" stroke-width="1.3" stroke-linejoin="round">12</text>
<rect x="1303.25" y="880.5" width="208.75" height="196.25" fill="#cacaca"/>
<text x="1305.40" y="919.35" font-size="42.01" fill="#000" text-anchor="start" textLength="43.45" lengthAdjust="spacingAndGlyphs" stroke="#000" stroke-width="1.3" stroke-linejoin="round">13</text>
<ellipse cx="138.75" cy="728.75" rx="4.10" ry="4.10" fill="#000"/>
<ellipse cx="150.00" cy="731.25" rx="3.85" ry="3.85" fill="#000"/>
<ellipse cx="139.50" cy="758.75" rx="4.10" ry="4.10" fill="#000"/>
<ellipse cx="145.00" cy="769.50" rx="3.85" ry="3.85" fill="#000"/>
<ellipse cx="353.00" cy="728.00" rx="4.85" ry="4.85" fill="#000"/>
<ellipse cx="365.50" cy="732.50" rx="4.10" ry="4.10" fill="#000"/>
<ellipse cx="352.00" cy="756.25" rx="3.60" ry="3.60" fill="#000"/>
<ellipse cx="355.00" cy="769.50" rx="3.35" ry="3.35" fill="#000"/>
<ellipse cx="561.25" cy="728.00" rx="4.35" ry="4.35" fill="#000"/>
<ellipse cx="578.50" cy="728.00" rx="3.85" ry="3.85" fill="#000"/>
<ellipse cx="566.00" cy="758.75" rx="4.10" ry="4.10" fill="#000"/>
<ellipse cx="571.00" cy="770.50" rx="3.85" ry="3.85" fill="#000"/>
<ellipse cx="784.25" cy="723.00" rx="3.85" ry="3.85" fill="#000"/>
<ellipse cx="796.75" cy="723.75" rx="3.35" ry="3.35" fill="#000"/>
<ellipse cx="786.00" cy="753.00" rx="3.60" ry="3.60" fill="#000"/>
<ellipse cx="788.00" cy="765.75" rx="3.85" ry="3.85" fill="#000"/>
<ellipse cx="813.50" cy="799.25" rx="1.95" ry="1.95" fill="#000"/>
<ellipse cx="767.30" cy="827.00" rx="2.95" ry="2.95" fill="#000"/>
<ellipse cx="811.00" cy="817.50" rx="2.35" ry="2.35" fill="#000"/>
<ellipse cx="680.70" cy="812.10" rx="2.95" ry="2.95" fill="#000"/>
<ellipse cx="1029.75" cy="690.00" rx="3.85" ry="3.85" fill="#000"/>
<ellipse cx="894.50" cy="710.50" rx="4.55" ry="3.35" fill="#000" transform="rotate(35 894.50 710.50)"/>
<ellipse cx="994.75" cy="719.00" rx="3.85" ry="4.55" fill="#000"/>
<ellipse cx="1009.75" cy="722.00" rx="3.35" ry="4.35" fill="#000"/>
<ellipse cx="1018.00" cy="731.25" rx="3.85" ry="3.85" fill="#000"/>
<ellipse cx="996.50" cy="748.00" rx="3.85" ry="3.85" fill="#000"/>
<ellipse cx="998.50" cy="763.25" rx="4.15" ry="3.65" fill="#000"/>
<ellipse cx="1028.00" cy="801.25" rx="4.15" ry="3.65" fill="#000"/>
<ellipse cx="1032.60" cy="818.00" rx="4.55" ry="3.85" fill="#000"/>
<ellipse cx="897.80" cy="816.30" rx="4.10" ry="4.10" fill="#000"/>
<ellipse cx="980.00" cy="822.40" rx="3.85" ry="4.25" fill="#000"/>
<ellipse cx="1209.75" cy="696.75" rx="3.35" ry="4.85" fill="#000" transform="rotate(-30 1209.75 696.75)"/>
<ellipse cx="1253.50" cy="703.75" rx="2.85" ry="5.85" fill="#000" transform="rotate(-30 1253.50 703.75)"/>
<ellipse cx="1107.40" cy="727.00" rx="1.55" ry="1.55" fill="#000"/>
<ellipse cx="1136.00" cy="724.25" rx="3.35" ry="3.35" fill="#000"/>
<ellipse cx="1214.00" cy="733.75" rx="4.35" ry="4.35" fill="#000"/>
<ellipse cx="1224.75" cy="728.75" rx="4.35" ry="4.35" fill="#000"/>
<ellipse cx="1231.00" cy="740.75" rx="4.10" ry="4.10" fill="#000"/>
<ellipse cx="1149.00" cy="750.75" rx="3.85" ry="3.85" fill="#000"/>
<ellipse cx="1174.00" cy="761.25" rx="1.35" ry="1.35" fill="#000"/>
<ellipse cx="1220.25" cy="762.50" rx="4.10" ry="4.10" fill="#000"/>
<ellipse cx="1219.00" cy="772.50" rx="3.35" ry="3.35" fill="#000"/>
<ellipse cx="1265.25" cy="761.75" rx="1.35" ry="1.35" fill="#000"/>
<ellipse cx="1094.30" cy="785.70" rx="3.85" ry="3.85" fill="#000"/>
<ellipse cx="1115.50" cy="780.80" rx="3.35" ry="3.35" fill="#000"/>
<ellipse cx="1128.30" cy="784.60" rx="3.85" ry="3.85" fill="#000"/>
<ellipse cx="1117.60" cy="790.40" rx="3.35" ry="3.35" fill="#000"/>
<ellipse cx="1092.80" cy="796.20" rx="3.35" ry="3.35" fill="#000"/>
<ellipse cx="1123.40" cy="797.40" rx="3.35" ry="3.35" fill="#000"/>
<ellipse cx="1095.70" cy="805.00" rx="3.85" ry="3.85" fill="#000"/>
<ellipse cx="1182.50" cy="798.20" rx="3.35" ry="3.35" fill="#000"/>
<ellipse cx="1176.40" cy="804.00" rx="3.35" ry="3.35" fill="#000"/>
<ellipse cx="1184.50" cy="806.00" rx="3.35" ry="3.35" fill="#000"/>
<ellipse cx="1229.60" cy="802.00" rx="3.35" ry="3.35" fill="#000"/>
<ellipse cx="1239.80" cy="805.50" rx="2.85" ry="2.85" fill="#000"/>
<ellipse cx="1247.70" cy="812.80" rx="3.35" ry="3.35" fill="#000"/>
<ellipse cx="1143.80" cy="817.20" rx="3.35" ry="3.35" fill="#000"/>
<ellipse cx="1134.20" cy="823.00" rx="3.85" ry="3.85" fill="#000"/>
<ellipse cx="1189.50" cy="822.00" rx="3.35" ry="3.35" fill="#000"/>
<ellipse cx="1197.60" cy="819.50" rx="3.35" ry="3.35" fill="#000"/>
<ellipse cx="1220.00" cy="819.50" rx="3.85" ry="3.85" fill="#000"/>
<ellipse cx="1229.00" cy="828.75" rx="3.85" ry="3.85" fill="#000"/>
<ellipse cx="1242.00" cy="823.90" rx="3.85" ry="3.85" fill="#000"/>
<ellipse cx="1252.50" cy="824.50" rx="3.35" ry="3.35" fill="#000"/>
<ellipse cx="1235.25" cy="835.00" rx="3.35" ry="3.35" fill="#000"/>
<ellipse cx="1250.25" cy="835.00" rx="3.85" ry="3.85" fill="#000"/>
<ellipse cx="1243.50" cy="841.25" rx="3.85" ry="3.85" fill="#000"/>
<ellipse cx="1202.00" cy="843.75" rx="3.35" ry="3.35" fill="#000"/>
<ellipse cx="1211.50" cy="843.75" rx="4.10" ry="4.10" fill="#000"/>
<ellipse cx="1196.00" cy="852.50" rx="3.85" ry="3.85" fill="#000"/>
<ellipse cx="1440.25" cy="695.00" rx="6.85" ry="4.35" fill="#000" transform="rotate(20 1440.25 695.00)"/>
<ellipse cx="1480.25" cy="703.00" rx="5.85" ry="3.85" fill="#000" transform="rotate(35 1480.25 703.00)"/>
<ellipse cx="1364.50" cy="715.00" rx="4.85" ry="4.85" fill="#000"/>
<ellipse cx="1375.00" cy="746.25" rx="4.10" ry="4.10" fill="#000"/>
<ellipse cx="1439.50" cy="730.50" rx="3.85" ry="3.85" fill="#000"/>
<ellipse cx="1451.00" cy="728.75" rx="3.85" ry="3.85" fill="#000"/>
<ellipse cx="1457.75" cy="740.00" rx="3.85" ry="3.85" fill="#000"/>
<ellipse cx="1446.50" cy="764.25" rx="3.85" ry="3.85" fill="#000"/>
<ellipse cx="1437.75" cy="773.00" rx="3.85" ry="3.85" fill="#000"/>
<ellipse cx="1487.75" cy="762.00" rx="1.55" ry="1.55" fill="#000"/>
<ellipse cx="1319.50" cy="780.50" rx="4.35" ry="3.35" fill="#000"/>
<ellipse cx="1317.75" cy="788.75" rx="5.85" ry="2.85" fill="#000"/>
<ellipse cx="1318.50" cy="799.25" rx="3.35" ry="1.85" fill="#000"/>
<ellipse cx="1342.75" cy="775.00" rx="3.85" ry="3.85" fill="#000"/>
<ellipse cx="1354.50" cy="779.25" rx="3.85" ry="3.85" fill="#000"/>
<ellipse cx="1342.75" cy="786.25" rx="2.85" ry="2.85" fill="#000"/>
<ellipse cx="1349.50" cy="791.25" rx="3.35" ry="3.35" fill="#000"/>
<ellipse cx="1408.25" cy="790.75" rx="4.35" ry="4.35" fill="#000"/>
<ellipse cx="1401.50" cy="798.00" rx="4.85" ry="4.85" fill="#000"/>
<ellipse cx="1410.25" cy="802.50" rx="4.85" ry="4.85" fill="#000"/>
<ellipse cx="1452.25" cy="799.25" rx="3.85" ry="3.85" fill="#000"/>
<ellipse cx="1462.25" cy="801.75" rx="3.85" ry="3.85" fill="#000"/>
<ellipse cx="1471.50" cy="808.75" rx="3.85" ry="3.85" fill="#000"/>
<ellipse cx="1366.50" cy="813.00" rx="3.35" ry="3.35" fill="#000"/>
<ellipse cx="1358.50" cy="819.50" rx="2.85" ry="2.85" fill="#000"/>
<ellipse cx="1415.25" cy="820.00" rx="4.35" ry="4.85" fill="#000"/>
<ellipse cx="1424.50" cy="815.50" rx="2.85" ry="1.85" fill="#000"/>
<ellipse cx="1445.25" cy="820.50" rx="3.85" ry="4.35" fill="#000" transform="rotate(30 1445.25 820.50)"/>
<ellipse cx="1452.00" cy="828.00" rx="3.85" ry="4.35" fill="#000" transform="rotate(30 1452.00 828.00)"/>
<ellipse cx="1466.00" cy="824.25" rx="3.85" ry="3.85" fill="#000"/>
<ellipse cx="1476.00" cy="820.50" rx="3.85" ry="3.85" fill="#000"/>
<ellipse cx="1472.00" cy="811.25" rx="3.35" ry="3.35" fill="#000"/>
<ellipse cx="1461.50" cy="833.75" rx="3.85" ry="3.85" fill="#000"/>
<ellipse cx="1471.50" cy="833.75" rx="3.85" ry="3.85" fill="#000"/>
<ellipse cx="1468.50" cy="842.00" rx="3.85" ry="3.85" fill="#000"/>
<ellipse cx="1416.50" cy="847.50" rx="4.85" ry="3.85" fill="#000" transform="rotate(-30 1416.50 847.50)"/>
<ellipse cx="1424.50" cy="840.50" rx="3.35" ry="3.35" fill="#000"/>
<ellipse cx="1432.75" cy="840.50" rx="3.35" ry="3.35" fill="#000"/>
<text x="4.00" y="1069.75" font-size="22.66" font-weight="bold" fill="#000" text-anchor="start" textLength="177.00" lengthAdjust="spacingAndGlyphs" stroke="#000" stroke-width="0.5" stroke-linejoin="round">27.3 Wk Ro+ CHB-</text>
<rect x="3.75" y="1071.95" width="85.75" height="2.6" fill="#000"/>
<text x="226.50" y="1069.75" font-size="22.66" font-weight="bold" fill="#000" text-anchor="start" textLength="190.75" lengthAdjust="spacingAndGlyphs" stroke="#000" stroke-width="0.5" stroke-linejoin="round">Postnatal Ro+ CHB-</text>
<rect x="226.25" y="1071.95" width="100.50" height="2.6" fill="#000"/>
<text x="442.00" y="1069.75" font-size="22.66" font-weight="bold" fill="#000" text-anchor="start" textLength="190.75" lengthAdjust="spacingAndGlyphs" stroke="#000" stroke-width="0.5" stroke-linejoin="round">Postnatal Ro+ CHB-</text>
<rect x="441.75" y="1071.70" width="100.00" height="2.6" fill="#000"/>
<text x="877.50" y="1068.75" font-size="21.58" font-weight="bold" fill="#000" text-anchor="start" textLength="117.00" lengthAdjust="spacingAndGlyphs" stroke="#000" stroke-width="0.5" stroke-linejoin="round">29 y.o. Nml.</text>
<rect x="877.25" y="1071.20" width="123.25" height="2.6" fill="#000"/>
<text x="1093.75" y="1068.75" font-size="21.58" font-weight="bold" fill="#000" text-anchor="start" textLength="117.00" lengthAdjust="spacingAndGlyphs" stroke="#000" stroke-width="0.5" stroke-linejoin="round">23 y.o. Nml.</text>
<rect x="1093.50" y="1071.20" width="124.25" height="2.6" fill="#000"/>
<text x="1311.75" y="1068.75" font-size="21.58" font-weight="bold" fill="#000" text-anchor="start" textLength="117.00" lengthAdjust="spacingAndGlyphs" stroke="#000" stroke-width="0.5" stroke-linejoin="round">24 y.o. Nml.</text>
<rect x="1311.50" y="1070.70" width="124.50" height="2.6" fill="#000"/>
<rect x="446.3" y="883.5" width="1" height="41" fill="#222"/>
<rect x="446.3" y="931" width="1.2" height="1.5" fill="#222"/>
<ellipse cx="682.20" cy="706.20" rx="1.80" ry="1.80" fill="#666"/>
<circle cx="1012.25" cy="1055.8" r="5.4" fill="none" stroke="#000" stroke-width="2.5"/>
<rect x="1010.95" y="1061.5" width="2.6" height="7.8" fill="#000"/>
<rect x="1007.75" y="1064.3" width="9" height="2.3" fill="#000"/>
<circle cx="1230.25" cy="1055.8" r="5.4" fill="none" stroke="#000" stroke-width="2.5"/>
<rect x="1228.95" y="1061.5" width="2.6" height="7.8" fill="#000"/>
<rect x="1225.75" y="1064.3" width="9" height="2.3" fill="#000"/>
<circle cx="1446.5" cy="1055.8" r="5.4" fill="none" stroke="#000" stroke-width="2.5"/>
<rect x="1445.20" y="1061.5" width="2.6" height="7.8" fill="#000"/>
<rect x="1442.00" y="1064.3" width="9" height="2.3" fill="#000"/>
</svg></body></html>
